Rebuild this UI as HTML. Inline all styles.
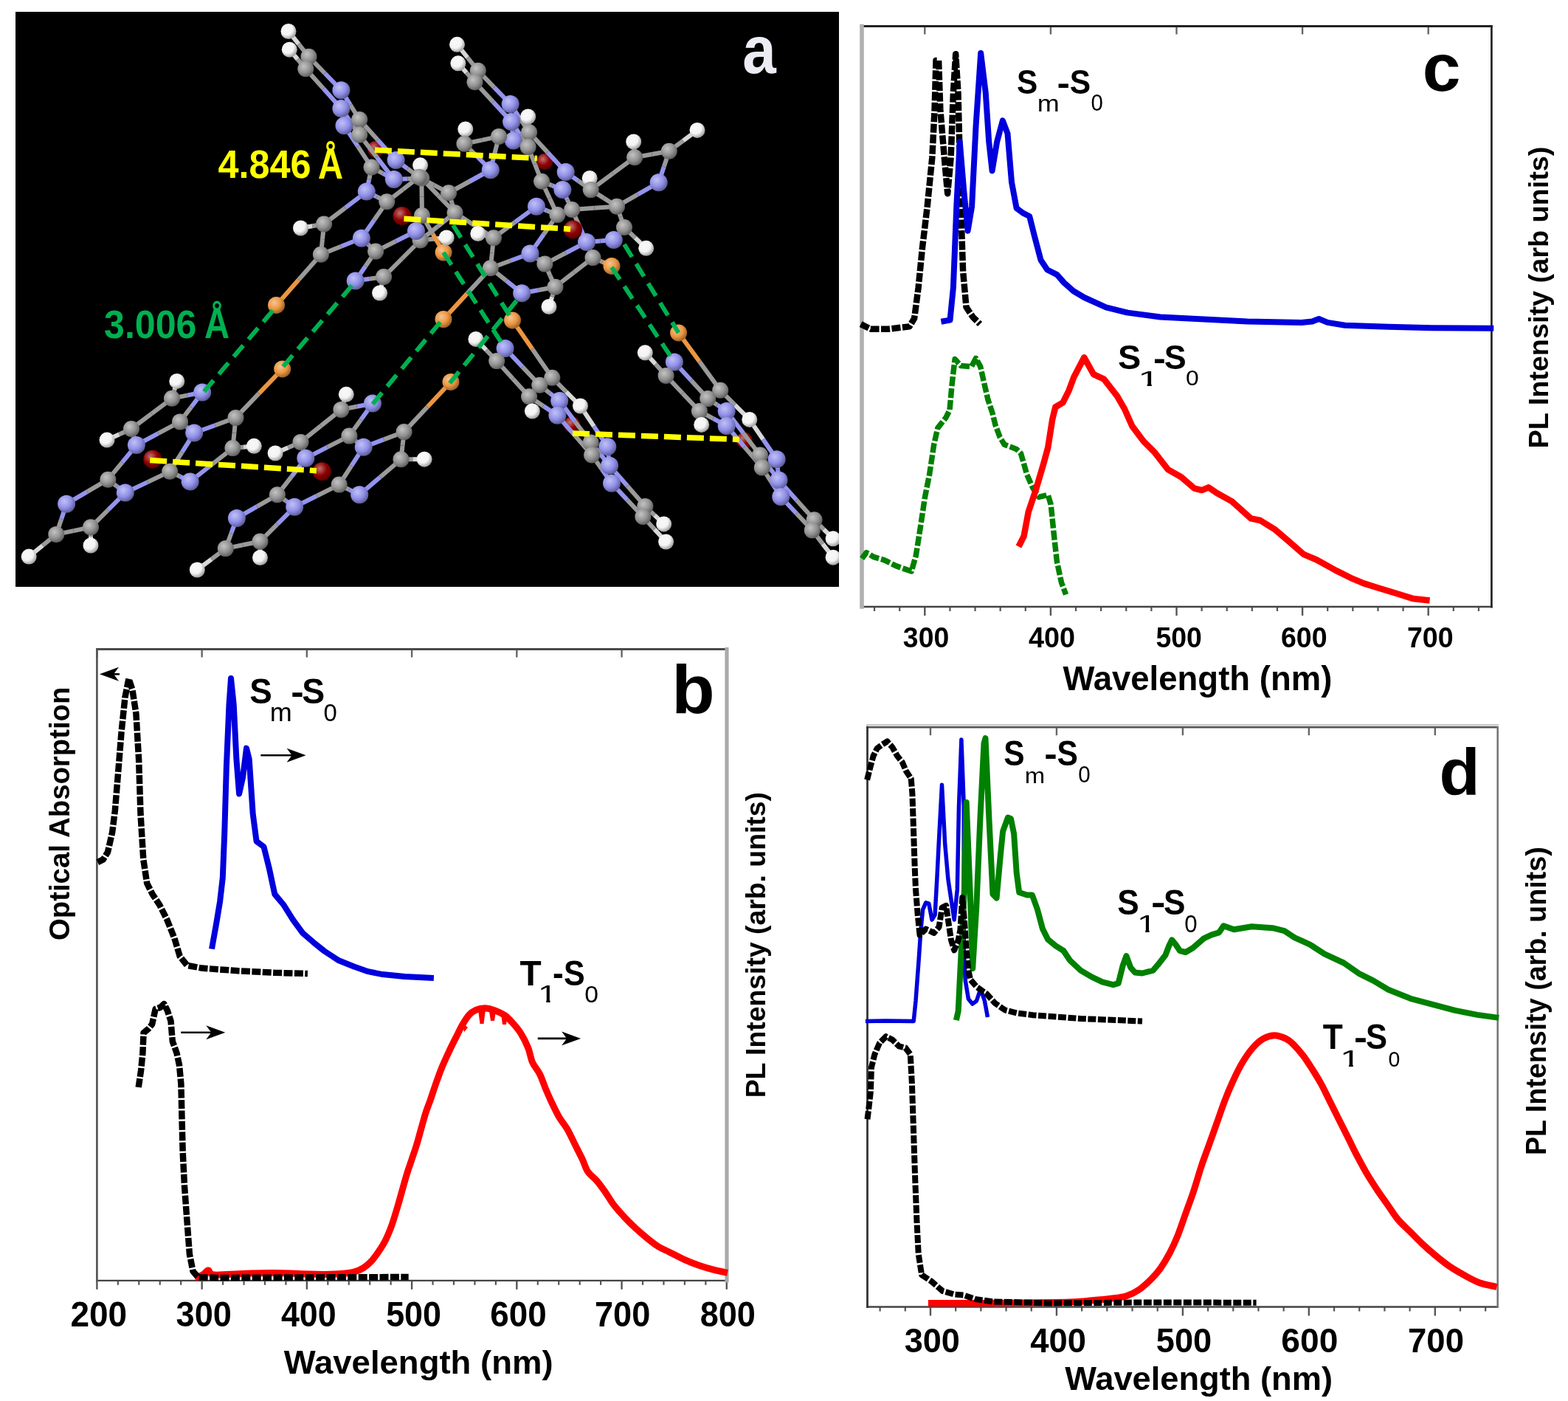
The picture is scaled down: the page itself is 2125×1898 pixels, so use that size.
<!DOCTYPE html>
<html><head><meta charset="utf-8"><title>Figure</title>
<style>
html,body{margin:0;padding:0;background:#fff;overflow:hidden;width:2125px;height:1898px;}
svg{display:block;}
text{font-family:'Liberation Sans', Arial, sans-serif;}
</style></head>
<body>
<svg width="2125" height="1898" viewBox="0 0 2125 1898">
<rect width="2125" height="1898" fill="#fff"/>
<clipPath id="clipA"><rect x="21" y="16" width="1116" height="779"/></clipPath>
<rect x="21" y="16" width="1116" height="779" fill="#000"/>
<g clip-path="url(#clipA)">
<circle cx="738.4" cy="218.9" r="11" fill="url(#gO)"/>
<circle cx="509.1" cy="201.9" r="11" fill="url(#gO)"/>
<circle cx="775.2" cy="575.4" r="11" fill="url(#gO)"/>
<circle cx="1008.8" cy="596.7" r="11" fill="url(#gO)"/>
<line x1="239.80" y1="516.40" x2="236.40" y2="528.10" stroke="#d8d8d8" stroke-width="6" stroke-linecap="butt"/>
<line x1="236.40" y1="528.10" x2="233.00" y2="539.80" stroke="#9a9a9a" stroke-width="6" stroke-linecap="butt"/>
<line x1="233.00" y1="539.80" x2="253.60" y2="535.65" stroke="#9a9a9a" stroke-width="6" stroke-linecap="butt"/>
<line x1="253.60" y1="535.65" x2="274.20" y2="531.50" stroke="#9494ee" stroke-width="6" stroke-linecap="butt"/>
<line x1="233.00" y1="539.80" x2="205.50" y2="560.40" stroke="#9a9a9a" stroke-width="6" stroke-linecap="butt"/>
<line x1="205.50" y1="560.40" x2="178.00" y2="581.00" stroke="#9a9a9a" stroke-width="6" stroke-linecap="butt"/>
<line x1="274.20" y1="531.50" x2="259.10" y2="551.45" stroke="#9494ee" stroke-width="6" stroke-linecap="butt"/>
<line x1="259.10" y1="551.45" x2="244.00" y2="571.40" stroke="#9a9a9a" stroke-width="6" stroke-linecap="butt"/>
<line x1="178.00" y1="581.00" x2="161.50" y2="588.55" stroke="#9a9a9a" stroke-width="6" stroke-linecap="butt"/>
<line x1="161.50" y1="588.55" x2="145.00" y2="596.10" stroke="#d8d8d8" stroke-width="6" stroke-linecap="butt"/>
<line x1="178.00" y1="581.00" x2="181.45" y2="592.00" stroke="#9a9a9a" stroke-width="6" stroke-linecap="butt"/>
<line x1="181.45" y1="592.00" x2="184.90" y2="603.00" stroke="#9494ee" stroke-width="6" stroke-linecap="butt"/>
<line x1="184.90" y1="603.00" x2="214.45" y2="587.20" stroke="#9494ee" stroke-width="6" stroke-linecap="butt"/>
<line x1="214.45" y1="587.20" x2="244.00" y2="571.40" stroke="#9a9a9a" stroke-width="6" stroke-linecap="butt"/>
<line x1="244.00" y1="571.40" x2="253.60" y2="578.95" stroke="#9a9a9a" stroke-width="6" stroke-linecap="butt"/>
<line x1="253.60" y1="578.95" x2="263.20" y2="586.50" stroke="#9494ee" stroke-width="6" stroke-linecap="butt"/>
<line x1="263.20" y1="586.50" x2="291.35" y2="576.20" stroke="#9494ee" stroke-width="6" stroke-linecap="butt"/>
<line x1="291.35" y1="576.20" x2="319.50" y2="565.90" stroke="#9a9a9a" stroke-width="6" stroke-linecap="butt"/>
<line x1="263.20" y1="586.50" x2="246.70" y2="612.60" stroke="#9494ee" stroke-width="6" stroke-linecap="butt"/>
<line x1="246.70" y1="612.60" x2="230.20" y2="638.70" stroke="#9a9a9a" stroke-width="6" stroke-linecap="butt"/>
<line x1="184.90" y1="603.00" x2="165.65" y2="626.35" stroke="#9494ee" stroke-width="6" stroke-linecap="butt"/>
<line x1="165.65" y1="626.35" x2="146.40" y2="649.70" stroke="#9a9a9a" stroke-width="6" stroke-linecap="butt"/>
<line x1="146.40" y1="649.70" x2="158.10" y2="658.60" stroke="#9a9a9a" stroke-width="6" stroke-linecap="butt"/>
<line x1="158.10" y1="658.60" x2="169.80" y2="667.50" stroke="#9494ee" stroke-width="6" stroke-linecap="butt"/>
<line x1="146.40" y1="649.70" x2="118.25" y2="666.20" stroke="#9a9a9a" stroke-width="6" stroke-linecap="butt"/>
<line x1="118.25" y1="666.20" x2="90.10" y2="682.70" stroke="#9494ee" stroke-width="6" stroke-linecap="butt"/>
<line x1="169.80" y1="667.50" x2="200.00" y2="653.10" stroke="#9494ee" stroke-width="6" stroke-linecap="butt"/>
<line x1="200.00" y1="653.10" x2="230.20" y2="638.70" stroke="#9a9a9a" stroke-width="6" stroke-linecap="butt"/>
<line x1="169.80" y1="667.50" x2="146.40" y2="690.90" stroke="#9494ee" stroke-width="6" stroke-linecap="butt"/>
<line x1="146.40" y1="690.90" x2="123.00" y2="714.30" stroke="#9a9a9a" stroke-width="6" stroke-linecap="butt"/>
<line x1="90.10" y1="682.70" x2="83.20" y2="703.30" stroke="#9494ee" stroke-width="6" stroke-linecap="butt"/>
<line x1="83.20" y1="703.30" x2="76.30" y2="723.90" stroke="#9a9a9a" stroke-width="6" stroke-linecap="butt"/>
<line x1="76.30" y1="723.90" x2="99.65" y2="719.10" stroke="#9a9a9a" stroke-width="6" stroke-linecap="butt"/>
<line x1="99.65" y1="719.10" x2="123.00" y2="714.30" stroke="#9a9a9a" stroke-width="6" stroke-linecap="butt"/>
<line x1="123.00" y1="714.30" x2="123.00" y2="726.65" stroke="#9a9a9a" stroke-width="6" stroke-linecap="butt"/>
<line x1="123.00" y1="726.65" x2="123.00" y2="739.00" stroke="#d8d8d8" stroke-width="6" stroke-linecap="butt"/>
<line x1="76.30" y1="723.90" x2="57.75" y2="739.00" stroke="#9a9a9a" stroke-width="6" stroke-linecap="butt"/>
<line x1="57.75" y1="739.00" x2="39.20" y2="754.10" stroke="#d8d8d8" stroke-width="6" stroke-linecap="butt"/>
<line x1="230.20" y1="638.70" x2="243.95" y2="645.55" stroke="#9a9a9a" stroke-width="6" stroke-linecap="butt"/>
<line x1="243.95" y1="645.55" x2="257.70" y2="652.40" stroke="#9494ee" stroke-width="6" stroke-linecap="butt"/>
<line x1="257.70" y1="652.40" x2="286.55" y2="629.75" stroke="#9494ee" stroke-width="6" stroke-linecap="butt"/>
<line x1="286.55" y1="629.75" x2="315.40" y2="607.10" stroke="#9a9a9a" stroke-width="6" stroke-linecap="butt"/>
<line x1="319.50" y1="565.90" x2="317.45" y2="586.50" stroke="#9a9a9a" stroke-width="6" stroke-linecap="butt"/>
<line x1="317.45" y1="586.50" x2="315.40" y2="607.10" stroke="#9a9a9a" stroke-width="6" stroke-linecap="butt"/>
<line x1="315.40" y1="607.10" x2="329.85" y2="605.70" stroke="#9a9a9a" stroke-width="6" stroke-linecap="butt"/>
<line x1="329.85" y1="605.70" x2="344.30" y2="604.30" stroke="#d8d8d8" stroke-width="6" stroke-linecap="butt"/>
<line x1="469.30" y1="534.30" x2="465.85" y2="544.60" stroke="#d8d8d8" stroke-width="6" stroke-linecap="butt"/>
<line x1="465.85" y1="544.60" x2="462.40" y2="554.90" stroke="#9a9a9a" stroke-width="6" stroke-linecap="butt"/>
<line x1="462.40" y1="554.90" x2="483.70" y2="550.75" stroke="#9a9a9a" stroke-width="6" stroke-linecap="butt"/>
<line x1="483.70" y1="550.75" x2="505.00" y2="546.60" stroke="#9494ee" stroke-width="6" stroke-linecap="butt"/>
<line x1="462.40" y1="554.90" x2="434.95" y2="576.90" stroke="#9a9a9a" stroke-width="6" stroke-linecap="butt"/>
<line x1="434.95" y1="576.90" x2="407.50" y2="598.90" stroke="#9a9a9a" stroke-width="6" stroke-linecap="butt"/>
<line x1="505.00" y1="546.60" x2="489.20" y2="568.60" stroke="#9494ee" stroke-width="6" stroke-linecap="butt"/>
<line x1="489.20" y1="568.60" x2="473.40" y2="590.60" stroke="#9a9a9a" stroke-width="6" stroke-linecap="butt"/>
<line x1="407.50" y1="598.90" x2="390.30" y2="606.45" stroke="#9a9a9a" stroke-width="6" stroke-linecap="butt"/>
<line x1="390.30" y1="606.45" x2="373.10" y2="614.00" stroke="#d8d8d8" stroke-width="6" stroke-linecap="butt"/>
<line x1="407.50" y1="598.90" x2="410.90" y2="609.85" stroke="#9a9a9a" stroke-width="6" stroke-linecap="butt"/>
<line x1="410.90" y1="609.85" x2="414.30" y2="620.80" stroke="#9494ee" stroke-width="6" stroke-linecap="butt"/>
<line x1="414.30" y1="620.80" x2="443.85" y2="605.70" stroke="#9494ee" stroke-width="6" stroke-linecap="butt"/>
<line x1="443.85" y1="605.70" x2="473.40" y2="590.60" stroke="#9a9a9a" stroke-width="6" stroke-linecap="butt"/>
<line x1="473.40" y1="590.60" x2="483.05" y2="598.15" stroke="#9a9a9a" stroke-width="6" stroke-linecap="butt"/>
<line x1="483.05" y1="598.15" x2="492.70" y2="605.70" stroke="#9494ee" stroke-width="6" stroke-linecap="butt"/>
<line x1="492.70" y1="605.70" x2="520.15" y2="595.40" stroke="#9494ee" stroke-width="6" stroke-linecap="butt"/>
<line x1="520.15" y1="595.40" x2="547.60" y2="585.10" stroke="#9a9a9a" stroke-width="6" stroke-linecap="butt"/>
<line x1="492.70" y1="605.70" x2="476.20" y2="631.15" stroke="#9494ee" stroke-width="6" stroke-linecap="butt"/>
<line x1="476.20" y1="631.15" x2="459.70" y2="656.60" stroke="#9a9a9a" stroke-width="6" stroke-linecap="butt"/>
<line x1="414.30" y1="620.80" x2="395.10" y2="645.55" stroke="#9494ee" stroke-width="6" stroke-linecap="butt"/>
<line x1="395.10" y1="645.55" x2="375.90" y2="670.30" stroke="#9a9a9a" stroke-width="6" stroke-linecap="butt"/>
<line x1="375.90" y1="670.30" x2="387.55" y2="678.55" stroke="#9a9a9a" stroke-width="6" stroke-linecap="butt"/>
<line x1="387.55" y1="678.55" x2="399.20" y2="686.80" stroke="#9494ee" stroke-width="6" stroke-linecap="butt"/>
<line x1="375.90" y1="670.30" x2="348.40" y2="686.10" stroke="#9a9a9a" stroke-width="6" stroke-linecap="butt"/>
<line x1="348.40" y1="686.10" x2="320.90" y2="701.90" stroke="#9494ee" stroke-width="6" stroke-linecap="butt"/>
<line x1="399.20" y1="686.80" x2="429.45" y2="671.70" stroke="#9494ee" stroke-width="6" stroke-linecap="butt"/>
<line x1="429.45" y1="671.70" x2="459.70" y2="656.60" stroke="#9a9a9a" stroke-width="6" stroke-linecap="butt"/>
<line x1="399.20" y1="686.80" x2="375.85" y2="710.15" stroke="#9494ee" stroke-width="6" stroke-linecap="butt"/>
<line x1="375.85" y1="710.15" x2="352.50" y2="733.50" stroke="#9a9a9a" stroke-width="6" stroke-linecap="butt"/>
<line x1="320.90" y1="701.90" x2="313.35" y2="722.50" stroke="#9494ee" stroke-width="6" stroke-linecap="butt"/>
<line x1="313.35" y1="722.50" x2="305.80" y2="743.10" stroke="#9a9a9a" stroke-width="6" stroke-linecap="butt"/>
<line x1="305.80" y1="743.10" x2="329.15" y2="738.30" stroke="#9a9a9a" stroke-width="6" stroke-linecap="butt"/>
<line x1="329.15" y1="738.30" x2="352.50" y2="733.50" stroke="#9a9a9a" stroke-width="6" stroke-linecap="butt"/>
<line x1="352.50" y1="733.50" x2="352.50" y2="744.50" stroke="#9a9a9a" stroke-width="6" stroke-linecap="butt"/>
<line x1="352.50" y1="744.50" x2="352.50" y2="755.50" stroke="#d8d8d8" stroke-width="6" stroke-linecap="butt"/>
<line x1="305.80" y1="743.10" x2="286.55" y2="757.55" stroke="#9a9a9a" stroke-width="6" stroke-linecap="butt"/>
<line x1="286.55" y1="757.55" x2="267.30" y2="772.00" stroke="#d8d8d8" stroke-width="6" stroke-linecap="butt"/>
<line x1="459.70" y1="656.60" x2="473.45" y2="663.45" stroke="#9a9a9a" stroke-width="6" stroke-linecap="butt"/>
<line x1="473.45" y1="663.45" x2="487.20" y2="670.30" stroke="#9494ee" stroke-width="6" stroke-linecap="butt"/>
<line x1="487.20" y1="670.30" x2="515.35" y2="646.25" stroke="#9494ee" stroke-width="6" stroke-linecap="butt"/>
<line x1="515.35" y1="646.25" x2="543.50" y2="622.20" stroke="#9a9a9a" stroke-width="6" stroke-linecap="butt"/>
<line x1="547.60" y1="585.10" x2="545.55" y2="603.65" stroke="#9a9a9a" stroke-width="6" stroke-linecap="butt"/>
<line x1="545.55" y1="603.65" x2="543.50" y2="622.20" stroke="#9a9a9a" stroke-width="6" stroke-linecap="butt"/>
<line x1="543.50" y1="622.20" x2="559.30" y2="622.20" stroke="#9a9a9a" stroke-width="6" stroke-linecap="butt"/>
<line x1="559.30" y1="622.20" x2="575.10" y2="622.20" stroke="#d8d8d8" stroke-width="6" stroke-linecap="butt"/>
<line x1="496.80" y1="259.60" x2="467.95" y2="281.55" stroke="#9494ee" stroke-width="6" stroke-linecap="butt"/>
<line x1="467.95" y1="281.55" x2="439.10" y2="303.50" stroke="#9a9a9a" stroke-width="6" stroke-linecap="butt"/>
<line x1="496.80" y1="259.60" x2="510.55" y2="266.45" stroke="#9494ee" stroke-width="6" stroke-linecap="butt"/>
<line x1="510.55" y1="266.45" x2="524.30" y2="273.30" stroke="#9a9a9a" stroke-width="6" stroke-linecap="butt"/>
<line x1="439.10" y1="303.50" x2="423.30" y2="306.25" stroke="#9a9a9a" stroke-width="6" stroke-linecap="butt"/>
<line x1="423.30" y1="306.25" x2="407.50" y2="309.00" stroke="#d8d8d8" stroke-width="6" stroke-linecap="butt"/>
<line x1="439.10" y1="303.50" x2="437.00" y2="324.15" stroke="#9a9a9a" stroke-width="6" stroke-linecap="butt"/>
<line x1="437.00" y1="324.15" x2="434.90" y2="344.80" stroke="#9a9a9a" stroke-width="6" stroke-linecap="butt"/>
<line x1="524.30" y1="273.30" x2="507.10" y2="298.05" stroke="#9a9a9a" stroke-width="6" stroke-linecap="butt"/>
<line x1="507.10" y1="298.05" x2="489.90" y2="322.80" stroke="#9494ee" stroke-width="6" stroke-linecap="butt"/>
<line x1="489.90" y1="322.80" x2="462.40" y2="333.80" stroke="#9494ee" stroke-width="6" stroke-linecap="butt"/>
<line x1="462.40" y1="333.80" x2="434.90" y2="344.80" stroke="#9a9a9a" stroke-width="6" stroke-linecap="butt"/>
<line x1="489.90" y1="322.80" x2="499.50" y2="331.70" stroke="#9494ee" stroke-width="6" stroke-linecap="butt"/>
<line x1="499.50" y1="331.70" x2="509.10" y2="340.60" stroke="#9a9a9a" stroke-width="6" stroke-linecap="butt"/>
<line x1="509.10" y1="340.60" x2="495.40" y2="360.55" stroke="#9a9a9a" stroke-width="6" stroke-linecap="butt"/>
<line x1="495.40" y1="360.55" x2="481.70" y2="380.50" stroke="#9494ee" stroke-width="6" stroke-linecap="butt"/>
<line x1="481.70" y1="380.50" x2="500.90" y2="377.75" stroke="#9494ee" stroke-width="6" stroke-linecap="butt"/>
<line x1="500.90" y1="377.75" x2="520.10" y2="375.00" stroke="#9a9a9a" stroke-width="6" stroke-linecap="butt"/>
<line x1="520.10" y1="375.00" x2="517.35" y2="386.00" stroke="#9a9a9a" stroke-width="6" stroke-linecap="butt"/>
<line x1="517.35" y1="386.00" x2="514.60" y2="397.00" stroke="#d8d8d8" stroke-width="6" stroke-linecap="butt"/>
<line x1="520.10" y1="375.00" x2="544.85" y2="350.25" stroke="#9a9a9a" stroke-width="6" stroke-linecap="butt"/>
<line x1="544.85" y1="350.25" x2="569.60" y2="325.50" stroke="#9a9a9a" stroke-width="6" stroke-linecap="butt"/>
<line x1="569.60" y1="325.50" x2="566.80" y2="319.25" stroke="#9a9a9a" stroke-width="6" stroke-linecap="butt"/>
<line x1="566.80" y1="319.25" x2="564.00" y2="313.00" stroke="#9494ee" stroke-width="6" stroke-linecap="butt"/>
<line x1="564.00" y1="313.00" x2="536.55" y2="326.80" stroke="#9494ee" stroke-width="6" stroke-linecap="butt"/>
<line x1="536.55" y1="326.80" x2="509.10" y2="340.60" stroke="#9a9a9a" stroke-width="6" stroke-linecap="butt"/>
<line x1="569.60" y1="325.50" x2="587.40" y2="323.70" stroke="#9a9a9a" stroke-width="6" stroke-linecap="butt"/>
<line x1="587.40" y1="323.70" x2="605.20" y2="321.90" stroke="#d8d8d8" stroke-width="6" stroke-linecap="butt"/>
<line x1="524.30" y1="273.30" x2="546.05" y2="256.55" stroke="#9a9a9a" stroke-width="6" stroke-linecap="butt"/>
<line x1="546.05" y1="256.55" x2="567.80" y2="239.80" stroke="#9a9a9a" stroke-width="6" stroke-linecap="butt"/>
<line x1="727.00" y1="279.70" x2="741.20" y2="285.35" stroke="#9494ee" stroke-width="6" stroke-linecap="butt"/>
<line x1="741.20" y1="285.35" x2="755.40" y2="291.00" stroke="#9a9a9a" stroke-width="6" stroke-linecap="butt"/>
<line x1="727.00" y1="279.70" x2="698.00" y2="300.95" stroke="#9494ee" stroke-width="6" stroke-linecap="butt"/>
<line x1="698.00" y1="300.95" x2="669.00" y2="322.20" stroke="#9a9a9a" stroke-width="6" stroke-linecap="butt"/>
<line x1="669.00" y1="322.20" x2="658.40" y2="319.35" stroke="#9a9a9a" stroke-width="6" stroke-linecap="butt"/>
<line x1="658.40" y1="319.35" x2="647.80" y2="316.50" stroke="#d8d8d8" stroke-width="6" stroke-linecap="butt"/>
<line x1="669.00" y1="322.20" x2="666.90" y2="342.70" stroke="#9a9a9a" stroke-width="6" stroke-linecap="butt"/>
<line x1="666.90" y1="342.70" x2="664.80" y2="363.20" stroke="#9a9a9a" stroke-width="6" stroke-linecap="butt"/>
<line x1="664.80" y1="363.20" x2="691.65" y2="353.30" stroke="#9a9a9a" stroke-width="6" stroke-linecap="butt"/>
<line x1="691.65" y1="353.30" x2="718.50" y2="343.40" stroke="#9494ee" stroke-width="6" stroke-linecap="butt"/>
<line x1="718.50" y1="343.40" x2="736.95" y2="317.20" stroke="#9494ee" stroke-width="6" stroke-linecap="butt"/>
<line x1="736.95" y1="317.20" x2="755.40" y2="291.00" stroke="#9a9a9a" stroke-width="6" stroke-linecap="butt"/>
<line x1="718.50" y1="343.40" x2="728.45" y2="350.50" stroke="#9494ee" stroke-width="6" stroke-linecap="butt"/>
<line x1="728.45" y1="350.50" x2="738.40" y2="357.60" stroke="#9a9a9a" stroke-width="6" stroke-linecap="butt"/>
<line x1="738.40" y1="357.60" x2="745.45" y2="373.15" stroke="#9a9a9a" stroke-width="6" stroke-linecap="butt"/>
<line x1="745.45" y1="373.15" x2="752.50" y2="388.70" stroke="#9a9a9a" stroke-width="6" stroke-linecap="butt"/>
<line x1="752.50" y1="388.70" x2="729.85" y2="392.95" stroke="#9a9a9a" stroke-width="6" stroke-linecap="butt"/>
<line x1="729.85" y1="392.95" x2="707.20" y2="397.20" stroke="#9494ee" stroke-width="6" stroke-linecap="butt"/>
<line x1="707.20" y1="397.20" x2="686.00" y2="380.20" stroke="#9494ee" stroke-width="6" stroke-linecap="butt"/>
<line x1="686.00" y1="380.20" x2="664.80" y2="363.20" stroke="#9a9a9a" stroke-width="6" stroke-linecap="butt"/>
<line x1="738.40" y1="357.60" x2="766.70" y2="342.75" stroke="#9a9a9a" stroke-width="6" stroke-linecap="butt"/>
<line x1="766.70" y1="342.75" x2="795.00" y2="327.90" stroke="#9494ee" stroke-width="6" stroke-linecap="butt"/>
<line x1="795.00" y1="327.90" x2="785.10" y2="305.95" stroke="#9494ee" stroke-width="6" stroke-linecap="butt"/>
<line x1="785.10" y1="305.95" x2="775.20" y2="284.00" stroke="#9a9a9a" stroke-width="6" stroke-linecap="butt"/>
<line x1="775.20" y1="284.00" x2="765.30" y2="287.50" stroke="#9a9a9a" stroke-width="6" stroke-linecap="butt"/>
<line x1="765.30" y1="287.50" x2="755.40" y2="291.00" stroke="#9a9a9a" stroke-width="6" stroke-linecap="butt"/>
<line x1="752.50" y1="388.70" x2="778.00" y2="368.90" stroke="#9a9a9a" stroke-width="6" stroke-linecap="butt"/>
<line x1="778.00" y1="368.90" x2="803.50" y2="349.10" stroke="#9a9a9a" stroke-width="6" stroke-linecap="butt"/>
<line x1="803.50" y1="349.10" x2="799.25" y2="338.50" stroke="#9a9a9a" stroke-width="6" stroke-linecap="butt"/>
<line x1="799.25" y1="338.50" x2="795.00" y2="327.90" stroke="#9494ee" stroke-width="6" stroke-linecap="butt"/>
<line x1="860.10" y1="213.20" x2="883.45" y2="208.95" stroke="#9a9a9a" stroke-width="6" stroke-linecap="butt"/>
<line x1="883.45" y1="208.95" x2="906.80" y2="204.70" stroke="#9a9a9a" stroke-width="6" stroke-linecap="butt"/>
<line x1="860.10" y1="213.20" x2="859.40" y2="202.60" stroke="#9a9a9a" stroke-width="6" stroke-linecap="butt"/>
<line x1="859.40" y1="202.60" x2="858.70" y2="192.00" stroke="#d8d8d8" stroke-width="6" stroke-linecap="butt"/>
<line x1="906.80" y1="204.70" x2="925.90" y2="190.55" stroke="#9a9a9a" stroke-width="6" stroke-linecap="butt"/>
<line x1="925.90" y1="190.55" x2="945.00" y2="176.40" stroke="#d8d8d8" stroke-width="6" stroke-linecap="butt"/>
<line x1="906.80" y1="204.70" x2="899.75" y2="225.95" stroke="#9a9a9a" stroke-width="6" stroke-linecap="butt"/>
<line x1="899.75" y1="225.95" x2="892.70" y2="247.20" stroke="#9494ee" stroke-width="6" stroke-linecap="butt"/>
<line x1="892.70" y1="247.20" x2="864.35" y2="263.45" stroke="#9494ee" stroke-width="6" stroke-linecap="butt"/>
<line x1="864.35" y1="263.45" x2="836.00" y2="279.70" stroke="#9a9a9a" stroke-width="6" stroke-linecap="butt"/>
<line x1="860.10" y1="213.20" x2="830.40" y2="235.15" stroke="#9a9a9a" stroke-width="6" stroke-linecap="butt"/>
<line x1="830.40" y1="235.15" x2="800.70" y2="257.10" stroke="#9a9a9a" stroke-width="6" stroke-linecap="butt"/>
<line x1="836.00" y1="279.70" x2="841.00" y2="293.85" stroke="#9a9a9a" stroke-width="6" stroke-linecap="butt"/>
<line x1="841.00" y1="293.85" x2="846.00" y2="308.00" stroke="#9a9a9a" stroke-width="6" stroke-linecap="butt"/>
<line x1="846.00" y1="308.00" x2="860.85" y2="322.15" stroke="#9a9a9a" stroke-width="6" stroke-linecap="butt"/>
<line x1="860.85" y1="322.15" x2="875.70" y2="336.30" stroke="#d8d8d8" stroke-width="6" stroke-linecap="butt"/>
<line x1="846.00" y1="308.00" x2="838.90" y2="316.50" stroke="#9a9a9a" stroke-width="6" stroke-linecap="butt"/>
<line x1="838.90" y1="316.50" x2="831.80" y2="325.00" stroke="#9494ee" stroke-width="6" stroke-linecap="butt"/>
<line x1="831.80" y1="325.00" x2="813.40" y2="326.45" stroke="#9494ee" stroke-width="6" stroke-linecap="butt"/>
<line x1="813.40" y1="326.45" x2="795.00" y2="327.90" stroke="#9494ee" stroke-width="6" stroke-linecap="butt"/>
<line x1="836.00" y1="279.70" x2="805.60" y2="281.85" stroke="#9a9a9a" stroke-width="6" stroke-linecap="butt"/>
<line x1="805.60" y1="281.85" x2="775.20" y2="284.00" stroke="#9a9a9a" stroke-width="6" stroke-linecap="butt"/>
<line x1="391.00" y1="42.50" x2="404.75" y2="59.65" stroke="#d8d8d8" stroke-width="6" stroke-linecap="butt"/>
<line x1="404.75" y1="59.65" x2="418.50" y2="76.80" stroke="#9a9a9a" stroke-width="6" stroke-linecap="butt"/>
<line x1="392.30" y1="67.20" x2="403.30" y2="80.25" stroke="#d8d8d8" stroke-width="6" stroke-linecap="butt"/>
<line x1="403.30" y1="80.25" x2="414.30" y2="93.30" stroke="#9a9a9a" stroke-width="6" stroke-linecap="butt"/>
<line x1="418.50" y1="76.80" x2="416.40" y2="85.05" stroke="#9a9a9a" stroke-width="6" stroke-linecap="butt"/>
<line x1="416.40" y1="85.05" x2="414.30" y2="93.30" stroke="#9a9a9a" stroke-width="6" stroke-linecap="butt"/>
<line x1="418.50" y1="76.80" x2="440.45" y2="99.50" stroke="#9a9a9a" stroke-width="6" stroke-linecap="butt"/>
<line x1="440.45" y1="99.50" x2="462.40" y2="122.20" stroke="#9494ee" stroke-width="6" stroke-linecap="butt"/>
<line x1="462.40" y1="122.20" x2="474.80" y2="142.10" stroke="#9494ee" stroke-width="6" stroke-linecap="butt"/>
<line x1="474.80" y1="142.10" x2="487.20" y2="162.00" stroke="#9a9a9a" stroke-width="6" stroke-linecap="butt"/>
<line x1="487.20" y1="162.00" x2="511.90" y2="189.50" stroke="#9a9a9a" stroke-width="6" stroke-linecap="butt"/>
<line x1="511.90" y1="189.50" x2="536.60" y2="217.00" stroke="#9494ee" stroke-width="6" stroke-linecap="butt"/>
<line x1="536.60" y1="217.00" x2="552.20" y2="228.40" stroke="#9494ee" stroke-width="6" stroke-linecap="butt"/>
<line x1="552.20" y1="228.40" x2="567.80" y2="239.80" stroke="#9a9a9a" stroke-width="6" stroke-linecap="butt"/>
<line x1="414.30" y1="93.30" x2="438.35" y2="120.10" stroke="#9a9a9a" stroke-width="6" stroke-linecap="butt"/>
<line x1="438.35" y1="120.10" x2="462.40" y2="146.90" stroke="#9494ee" stroke-width="6" stroke-linecap="butt"/>
<line x1="462.40" y1="146.90" x2="474.80" y2="164.75" stroke="#9494ee" stroke-width="6" stroke-linecap="butt"/>
<line x1="474.80" y1="164.75" x2="487.20" y2="182.60" stroke="#9a9a9a" stroke-width="6" stroke-linecap="butt"/>
<line x1="487.20" y1="182.60" x2="510.55" y2="212.85" stroke="#9a9a9a" stroke-width="6" stroke-linecap="butt"/>
<line x1="510.55" y1="212.85" x2="533.90" y2="243.10" stroke="#9494ee" stroke-width="6" stroke-linecap="butt"/>
<line x1="533.90" y1="243.10" x2="552.60" y2="242.30" stroke="#9494ee" stroke-width="6" stroke-linecap="butt"/>
<line x1="552.60" y1="242.30" x2="571.30" y2="241.50" stroke="#9a9a9a" stroke-width="6" stroke-linecap="butt"/>
<line x1="462.40" y1="146.90" x2="464.45" y2="158.60" stroke="#9494ee" stroke-width="6" stroke-linecap="butt"/>
<line x1="464.45" y1="158.60" x2="466.50" y2="170.30" stroke="#9494ee" stroke-width="6" stroke-linecap="butt"/>
<line x1="466.50" y1="170.30" x2="485.05" y2="198.45" stroke="#9494ee" stroke-width="6" stroke-linecap="butt"/>
<line x1="485.05" y1="198.45" x2="503.60" y2="226.60" stroke="#9a9a9a" stroke-width="6" stroke-linecap="butt"/>
<line x1="503.60" y1="226.60" x2="500.20" y2="243.10" stroke="#9a9a9a" stroke-width="6" stroke-linecap="butt"/>
<line x1="500.20" y1="243.10" x2="496.80" y2="259.60" stroke="#9494ee" stroke-width="6" stroke-linecap="butt"/>
<line x1="569.60" y1="223.80" x2="568.70" y2="231.80" stroke="#d8d8d8" stroke-width="6" stroke-linecap="butt"/>
<line x1="568.70" y1="231.80" x2="567.80" y2="239.80" stroke="#9a9a9a" stroke-width="6" stroke-linecap="butt"/>
<line x1="503.60" y1="226.60" x2="518.75" y2="234.85" stroke="#9a9a9a" stroke-width="6" stroke-linecap="butt"/>
<line x1="518.75" y1="234.85" x2="533.90" y2="243.10" stroke="#9494ee" stroke-width="6" stroke-linecap="butt"/>
<line x1="567.80" y1="239.80" x2="587.95" y2="250.55" stroke="#9a9a9a" stroke-width="6" stroke-linecap="butt"/>
<line x1="587.95" y1="250.55" x2="608.10" y2="261.30" stroke="#9a9a9a" stroke-width="6" stroke-linecap="butt"/>
<line x1="571.30" y1="241.50" x2="593.95" y2="264.85" stroke="#9a9a9a" stroke-width="6" stroke-linecap="butt"/>
<line x1="593.95" y1="264.85" x2="616.60" y2="288.20" stroke="#9a9a9a" stroke-width="6" stroke-linecap="butt"/>
<line x1="608.10" y1="261.30" x2="612.35" y2="274.75" stroke="#9a9a9a" stroke-width="6" stroke-linecap="butt"/>
<line x1="612.35" y1="274.75" x2="616.60" y2="288.20" stroke="#9a9a9a" stroke-width="6" stroke-linecap="butt"/>
<line x1="616.60" y1="288.20" x2="642.80" y2="305.20" stroke="#9a9a9a" stroke-width="6" stroke-linecap="butt"/>
<line x1="642.80" y1="305.20" x2="669.00" y2="322.20" stroke="#9a9a9a" stroke-width="6" stroke-linecap="butt"/>
<line x1="608.10" y1="261.30" x2="636.45" y2="245.75" stroke="#9a9a9a" stroke-width="6" stroke-linecap="butt"/>
<line x1="636.45" y1="245.75" x2="664.80" y2="230.20" stroke="#9494ee" stroke-width="6" stroke-linecap="butt"/>
<line x1="619.50" y1="60.30" x2="633.65" y2="78.00" stroke="#d8d8d8" stroke-width="6" stroke-linecap="butt"/>
<line x1="633.65" y1="78.00" x2="647.80" y2="95.70" stroke="#9a9a9a" stroke-width="6" stroke-linecap="butt"/>
<line x1="620.90" y1="85.80" x2="632.20" y2="98.55" stroke="#d8d8d8" stroke-width="6" stroke-linecap="butt"/>
<line x1="632.20" y1="98.55" x2="643.50" y2="111.30" stroke="#9a9a9a" stroke-width="6" stroke-linecap="butt"/>
<line x1="647.80" y1="95.70" x2="645.65" y2="103.50" stroke="#9a9a9a" stroke-width="6" stroke-linecap="butt"/>
<line x1="645.65" y1="103.50" x2="643.50" y2="111.30" stroke="#9a9a9a" stroke-width="6" stroke-linecap="butt"/>
<line x1="647.80" y1="95.70" x2="669.75" y2="118.35" stroke="#9a9a9a" stroke-width="6" stroke-linecap="butt"/>
<line x1="669.75" y1="118.35" x2="691.70" y2="141.00" stroke="#9494ee" stroke-width="6" stroke-linecap="butt"/>
<line x1="691.70" y1="141.00" x2="704.40" y2="160.10" stroke="#9494ee" stroke-width="6" stroke-linecap="butt"/>
<line x1="704.40" y1="160.10" x2="717.10" y2="179.20" stroke="#9a9a9a" stroke-width="6" stroke-linecap="butt"/>
<line x1="717.10" y1="179.20" x2="741.90" y2="206.10" stroke="#9a9a9a" stroke-width="6" stroke-linecap="butt"/>
<line x1="741.90" y1="206.10" x2="766.70" y2="233.00" stroke="#9494ee" stroke-width="6" stroke-linecap="butt"/>
<line x1="766.70" y1="233.00" x2="783.70" y2="245.05" stroke="#9494ee" stroke-width="6" stroke-linecap="butt"/>
<line x1="783.70" y1="245.05" x2="800.70" y2="257.10" stroke="#9a9a9a" stroke-width="6" stroke-linecap="butt"/>
<line x1="643.50" y1="111.30" x2="668.30" y2="138.15" stroke="#9a9a9a" stroke-width="6" stroke-linecap="butt"/>
<line x1="668.30" y1="138.15" x2="693.10" y2="165.00" stroke="#9494ee" stroke-width="6" stroke-linecap="butt"/>
<line x1="693.10" y1="165.00" x2="704.40" y2="182.00" stroke="#9494ee" stroke-width="6" stroke-linecap="butt"/>
<line x1="704.40" y1="182.00" x2="715.70" y2="199.00" stroke="#9a9a9a" stroke-width="6" stroke-linecap="butt"/>
<line x1="715.70" y1="199.00" x2="724.90" y2="222.35" stroke="#9a9a9a" stroke-width="6" stroke-linecap="butt"/>
<line x1="724.90" y1="222.35" x2="734.10" y2="245.70" stroke="#9a9a9a" stroke-width="6" stroke-linecap="butt"/>
<line x1="734.10" y1="245.70" x2="748.25" y2="251.40" stroke="#9a9a9a" stroke-width="6" stroke-linecap="butt"/>
<line x1="748.25" y1="251.40" x2="762.40" y2="257.10" stroke="#9494ee" stroke-width="6" stroke-linecap="butt"/>
<line x1="693.10" y1="165.00" x2="694.50" y2="177.75" stroke="#9494ee" stroke-width="6" stroke-linecap="butt"/>
<line x1="694.50" y1="177.75" x2="695.90" y2="190.50" stroke="#9494ee" stroke-width="6" stroke-linecap="butt"/>
<line x1="715.70" y1="158.00" x2="716.40" y2="168.60" stroke="#d8d8d8" stroke-width="6" stroke-linecap="butt"/>
<line x1="716.40" y1="168.60" x2="717.10" y2="179.20" stroke="#9a9a9a" stroke-width="6" stroke-linecap="butt"/>
<line x1="799.20" y1="241.50" x2="799.95" y2="249.30" stroke="#d8d8d8" stroke-width="6" stroke-linecap="butt"/>
<line x1="799.95" y1="249.30" x2="800.70" y2="257.10" stroke="#9a9a9a" stroke-width="6" stroke-linecap="butt"/>
<line x1="630.80" y1="175.00" x2="630.10" y2="184.90" stroke="#d8d8d8" stroke-width="6" stroke-linecap="butt"/>
<line x1="630.10" y1="184.90" x2="629.40" y2="194.80" stroke="#9a9a9a" stroke-width="6" stroke-linecap="butt"/>
<line x1="629.40" y1="194.80" x2="652.75" y2="189.85" stroke="#9a9a9a" stroke-width="6" stroke-linecap="butt"/>
<line x1="652.75" y1="189.85" x2="676.10" y2="184.90" stroke="#9a9a9a" stroke-width="6" stroke-linecap="butt"/>
<line x1="629.40" y1="194.80" x2="647.10" y2="212.50" stroke="#9a9a9a" stroke-width="6" stroke-linecap="butt"/>
<line x1="647.10" y1="212.50" x2="664.80" y2="230.20" stroke="#9494ee" stroke-width="6" stroke-linecap="butt"/>
<line x1="676.10" y1="184.90" x2="670.45" y2="207.55" stroke="#9a9a9a" stroke-width="6" stroke-linecap="butt"/>
<line x1="670.45" y1="207.55" x2="664.80" y2="230.20" stroke="#9494ee" stroke-width="6" stroke-linecap="butt"/>
<line x1="676.10" y1="184.90" x2="686.00" y2="187.70" stroke="#9a9a9a" stroke-width="6" stroke-linecap="butt"/>
<line x1="686.00" y1="187.70" x2="695.90" y2="190.50" stroke="#9494ee" stroke-width="6" stroke-linecap="butt"/>
<line x1="664.80" y1="230.20" x2="636.45" y2="245.75" stroke="#9494ee" stroke-width="6" stroke-linecap="butt"/>
<line x1="636.45" y1="245.75" x2="608.10" y2="261.30" stroke="#9a9a9a" stroke-width="6" stroke-linecap="butt"/>
<line x1="734.10" y1="245.70" x2="744.75" y2="268.35" stroke="#9a9a9a" stroke-width="6" stroke-linecap="butt"/>
<line x1="744.75" y1="268.35" x2="755.40" y2="291.00" stroke="#9a9a9a" stroke-width="6" stroke-linecap="butt"/>
<line x1="762.40" y1="257.10" x2="768.80" y2="270.55" stroke="#9494ee" stroke-width="6" stroke-linecap="butt"/>
<line x1="768.80" y1="270.55" x2="775.20" y2="284.00" stroke="#9a9a9a" stroke-width="6" stroke-linecap="butt"/>
<line x1="800.70" y1="257.10" x2="818.35" y2="268.40" stroke="#9a9a9a" stroke-width="6" stroke-linecap="butt"/>
<line x1="818.35" y1="268.40" x2="836.00" y2="279.70" stroke="#9a9a9a" stroke-width="6" stroke-linecap="butt"/>
<line x1="644.90" y1="459.40" x2="659.05" y2="474.25" stroke="#d8d8d8" stroke-width="6" stroke-linecap="butt"/>
<line x1="659.05" y1="474.25" x2="673.20" y2="489.10" stroke="#9a9a9a" stroke-width="6" stroke-linecap="butt"/>
<line x1="673.20" y1="489.10" x2="695.15" y2="513.15" stroke="#9a9a9a" stroke-width="6" stroke-linecap="butt"/>
<line x1="695.15" y1="513.15" x2="717.10" y2="537.20" stroke="#9a9a9a" stroke-width="6" stroke-linecap="butt"/>
<line x1="717.10" y1="537.20" x2="736.25" y2="549.95" stroke="#9a9a9a" stroke-width="6" stroke-linecap="butt"/>
<line x1="736.25" y1="549.95" x2="755.40" y2="562.70" stroke="#9494ee" stroke-width="6" stroke-linecap="butt"/>
<line x1="755.40" y1="562.70" x2="778.75" y2="589.60" stroke="#9494ee" stroke-width="6" stroke-linecap="butt"/>
<line x1="778.75" y1="589.60" x2="802.10" y2="616.50" stroke="#9a9a9a" stroke-width="6" stroke-linecap="butt"/>
<line x1="802.10" y1="616.50" x2="815.55" y2="635.60" stroke="#9a9a9a" stroke-width="6" stroke-linecap="butt"/>
<line x1="815.55" y1="635.60" x2="829.00" y2="654.70" stroke="#9494ee" stroke-width="6" stroke-linecap="butt"/>
<line x1="829.00" y1="654.70" x2="850.20" y2="677.35" stroke="#9494ee" stroke-width="6" stroke-linecap="butt"/>
<line x1="850.20" y1="677.35" x2="871.40" y2="700.00" stroke="#9a9a9a" stroke-width="6" stroke-linecap="butt"/>
<line x1="871.40" y1="700.00" x2="887.00" y2="717.00" stroke="#9a9a9a" stroke-width="6" stroke-linecap="butt"/>
<line x1="887.00" y1="717.00" x2="902.60" y2="734.00" stroke="#d8d8d8" stroke-width="6" stroke-linecap="butt"/>
<line x1="684.60" y1="472.10" x2="707.95" y2="496.90" stroke="#9494ee" stroke-width="6" stroke-linecap="butt"/>
<line x1="707.95" y1="496.90" x2="731.30" y2="521.70" stroke="#9a9a9a" stroke-width="6" stroke-linecap="butt"/>
<line x1="731.30" y1="521.70" x2="744.75" y2="532.30" stroke="#9a9a9a" stroke-width="6" stroke-linecap="butt"/>
<line x1="744.75" y1="532.30" x2="758.20" y2="542.90" stroke="#9494ee" stroke-width="6" stroke-linecap="butt"/>
<line x1="758.20" y1="542.90" x2="779.45" y2="571.20" stroke="#9494ee" stroke-width="6" stroke-linecap="butt"/>
<line x1="779.45" y1="571.20" x2="800.70" y2="599.50" stroke="#9a9a9a" stroke-width="6" stroke-linecap="butt"/>
<line x1="800.70" y1="599.50" x2="813.40" y2="615.10" stroke="#9a9a9a" stroke-width="6" stroke-linecap="butt"/>
<line x1="813.40" y1="615.10" x2="826.10" y2="630.70" stroke="#9494ee" stroke-width="6" stroke-linecap="butt"/>
<line x1="826.10" y1="630.70" x2="850.20" y2="658.30" stroke="#9494ee" stroke-width="6" stroke-linecap="butt"/>
<line x1="850.20" y1="658.30" x2="874.30" y2="685.90" stroke="#9a9a9a" stroke-width="6" stroke-linecap="butt"/>
<line x1="874.30" y1="685.90" x2="887.00" y2="697.90" stroke="#9a9a9a" stroke-width="6" stroke-linecap="butt"/>
<line x1="887.00" y1="697.90" x2="899.70" y2="709.90" stroke="#d8d8d8" stroke-width="6" stroke-linecap="butt"/>
<line x1="874.30" y1="685.90" x2="872.85" y2="692.95" stroke="#9a9a9a" stroke-width="6" stroke-linecap="butt"/>
<line x1="872.85" y1="692.95" x2="871.40" y2="700.00" stroke="#9a9a9a" stroke-width="6" stroke-linecap="butt"/>
<line x1="748.30" y1="511.70" x2="767.40" y2="530.85" stroke="#9a9a9a" stroke-width="6" stroke-linecap="butt"/>
<line x1="767.40" y1="530.85" x2="786.50" y2="550.00" stroke="#d8d8d8" stroke-width="6" stroke-linecap="butt"/>
<line x1="748.30" y1="511.70" x2="739.80" y2="516.70" stroke="#9a9a9a" stroke-width="6" stroke-linecap="butt"/>
<line x1="739.80" y1="516.70" x2="731.30" y2="521.70" stroke="#9a9a9a" stroke-width="6" stroke-linecap="butt"/>
<line x1="786.50" y1="550.00" x2="804.90" y2="577.60" stroke="#d8d8d8" stroke-width="6" stroke-linecap="butt"/>
<line x1="804.90" y1="577.60" x2="823.30" y2="605.20" stroke="#9494ee" stroke-width="6" stroke-linecap="butt"/>
<line x1="823.30" y1="605.20" x2="824.70" y2="617.95" stroke="#9494ee" stroke-width="6" stroke-linecap="butt"/>
<line x1="824.70" y1="617.95" x2="826.10" y2="630.70" stroke="#9494ee" stroke-width="6" stroke-linecap="butt"/>
<line x1="721.40" y1="557.00" x2="719.25" y2="547.10" stroke="#d8d8d8" stroke-width="6" stroke-linecap="butt"/>
<line x1="719.25" y1="547.10" x2="717.10" y2="537.20" stroke="#9a9a9a" stroke-width="6" stroke-linecap="butt"/>
<line x1="673.20" y1="489.10" x2="678.90" y2="480.60" stroke="#9a9a9a" stroke-width="6" stroke-linecap="butt"/>
<line x1="678.90" y1="480.60" x2="684.60" y2="472.10" stroke="#9494ee" stroke-width="6" stroke-linecap="butt"/>
<line x1="874.30" y1="477.80" x2="888.45" y2="493.35" stroke="#d8d8d8" stroke-width="6" stroke-linecap="butt"/>
<line x1="888.45" y1="493.35" x2="902.60" y2="508.90" stroke="#9a9a9a" stroke-width="6" stroke-linecap="butt"/>
<line x1="902.60" y1="508.90" x2="925.25" y2="532.95" stroke="#9a9a9a" stroke-width="6" stroke-linecap="butt"/>
<line x1="925.25" y1="532.95" x2="947.90" y2="557.00" stroke="#9a9a9a" stroke-width="6" stroke-linecap="butt"/>
<line x1="947.90" y1="557.00" x2="966.30" y2="566.95" stroke="#9a9a9a" stroke-width="6" stroke-linecap="butt"/>
<line x1="966.30" y1="566.95" x2="984.70" y2="576.90" stroke="#9494ee" stroke-width="6" stroke-linecap="butt"/>
<line x1="984.70" y1="576.90" x2="1008.75" y2="605.20" stroke="#9494ee" stroke-width="6" stroke-linecap="butt"/>
<line x1="1008.75" y1="605.20" x2="1032.80" y2="633.50" stroke="#9a9a9a" stroke-width="6" stroke-linecap="butt"/>
<line x1="1032.80" y1="633.50" x2="1045.55" y2="653.30" stroke="#9a9a9a" stroke-width="6" stroke-linecap="butt"/>
<line x1="1045.55" y1="653.30" x2="1058.30" y2="673.10" stroke="#9494ee" stroke-width="6" stroke-linecap="butt"/>
<line x1="1058.30" y1="673.10" x2="1079.55" y2="695.75" stroke="#9494ee" stroke-width="6" stroke-linecap="butt"/>
<line x1="1079.55" y1="695.75" x2="1100.80" y2="718.40" stroke="#9a9a9a" stroke-width="6" stroke-linecap="butt"/>
<line x1="1100.80" y1="718.40" x2="1114.95" y2="736.80" stroke="#9a9a9a" stroke-width="6" stroke-linecap="butt"/>
<line x1="1114.95" y1="736.80" x2="1129.10" y2="755.20" stroke="#d8d8d8" stroke-width="6" stroke-linecap="butt"/>
<line x1="913.90" y1="490.50" x2="936.55" y2="515.30" stroke="#9494ee" stroke-width="6" stroke-linecap="butt"/>
<line x1="936.55" y1="515.30" x2="959.20" y2="540.10" stroke="#9a9a9a" stroke-width="6" stroke-linecap="butt"/>
<line x1="959.20" y1="540.10" x2="971.95" y2="548.55" stroke="#9a9a9a" stroke-width="6" stroke-linecap="butt"/>
<line x1="971.95" y1="548.55" x2="984.70" y2="557.00" stroke="#9494ee" stroke-width="6" stroke-linecap="butt"/>
<line x1="984.70" y1="557.00" x2="1007.35" y2="586.75" stroke="#9494ee" stroke-width="6" stroke-linecap="butt"/>
<line x1="1007.35" y1="586.75" x2="1030.00" y2="616.50" stroke="#9a9a9a" stroke-width="6" stroke-linecap="butt"/>
<line x1="1030.00" y1="616.50" x2="1042.75" y2="633.50" stroke="#9a9a9a" stroke-width="6" stroke-linecap="butt"/>
<line x1="1042.75" y1="633.50" x2="1055.50" y2="650.50" stroke="#9494ee" stroke-width="6" stroke-linecap="butt"/>
<line x1="1055.50" y1="650.50" x2="1079.55" y2="677.40" stroke="#9494ee" stroke-width="6" stroke-linecap="butt"/>
<line x1="1079.55" y1="677.40" x2="1103.60" y2="704.30" stroke="#9a9a9a" stroke-width="6" stroke-linecap="butt"/>
<line x1="1103.60" y1="704.30" x2="1116.35" y2="717.05" stroke="#9a9a9a" stroke-width="6" stroke-linecap="butt"/>
<line x1="1116.35" y1="717.05" x2="1129.10" y2="729.80" stroke="#d8d8d8" stroke-width="6" stroke-linecap="butt"/>
<line x1="1103.60" y1="704.30" x2="1102.20" y2="711.35" stroke="#9a9a9a" stroke-width="6" stroke-linecap="butt"/>
<line x1="1102.20" y1="711.35" x2="1100.80" y2="718.40" stroke="#9a9a9a" stroke-width="6" stroke-linecap="butt"/>
<line x1="976.20" y1="528.70" x2="996.00" y2="548.55" stroke="#9a9a9a" stroke-width="6" stroke-linecap="butt"/>
<line x1="996.00" y1="548.55" x2="1015.80" y2="568.40" stroke="#d8d8d8" stroke-width="6" stroke-linecap="butt"/>
<line x1="976.20" y1="528.70" x2="967.70" y2="534.40" stroke="#9a9a9a" stroke-width="6" stroke-linecap="butt"/>
<line x1="967.70" y1="534.40" x2="959.20" y2="540.10" stroke="#9a9a9a" stroke-width="6" stroke-linecap="butt"/>
<line x1="1015.80" y1="568.40" x2="1034.20" y2="595.30" stroke="#d8d8d8" stroke-width="6" stroke-linecap="butt"/>
<line x1="1034.20" y1="595.30" x2="1052.60" y2="622.20" stroke="#9494ee" stroke-width="6" stroke-linecap="butt"/>
<line x1="1052.60" y1="622.20" x2="1054.05" y2="636.35" stroke="#9494ee" stroke-width="6" stroke-linecap="butt"/>
<line x1="1054.05" y1="636.35" x2="1055.50" y2="650.50" stroke="#9494ee" stroke-width="6" stroke-linecap="butt"/>
<line x1="950.70" y1="575.40" x2="949.30" y2="566.20" stroke="#d8d8d8" stroke-width="6" stroke-linecap="butt"/>
<line x1="949.30" y1="566.20" x2="947.90" y2="557.00" stroke="#9a9a9a" stroke-width="6" stroke-linecap="butt"/>
<line x1="902.60" y1="508.90" x2="908.25" y2="499.70" stroke="#9a9a9a" stroke-width="6" stroke-linecap="butt"/>
<line x1="908.25" y1="499.70" x2="913.90" y2="490.50" stroke="#9494ee" stroke-width="6" stroke-linecap="butt"/>
<line x1="569.60" y1="325.50" x2="593.10" y2="306.85" stroke="#9a9a9a" stroke-width="6" stroke-linecap="butt"/>
<line x1="593.10" y1="306.85" x2="616.60" y2="288.20" stroke="#9a9a9a" stroke-width="6" stroke-linecap="butt"/>
<line x1="572.00" y1="292.00" x2="571.65" y2="266.75" stroke="#9a9a9a" stroke-width="6" stroke-linecap="butt"/>
<line x1="571.65" y1="266.75" x2="571.30" y2="241.50" stroke="#9a9a9a" stroke-width="6" stroke-linecap="butt"/>
<line x1="744.00" y1="415.50" x2="748.25" y2="402.10" stroke="#d8d8d8" stroke-width="6" stroke-linecap="butt"/>
<line x1="748.25" y1="402.10" x2="752.50" y2="388.70" stroke="#9a9a9a" stroke-width="6" stroke-linecap="butt"/>
<line x1="374.50" y1="413.40" x2="404.70" y2="379.10" stroke="#ec9640" stroke-width="6" stroke-linecap="butt"/>
<line x1="404.70" y1="379.10" x2="434.90" y2="344.80" stroke="#9a9a9a" stroke-width="6" stroke-linecap="butt"/>
<line x1="382.70" y1="499.90" x2="351.10" y2="532.90" stroke="#ec9640" stroke-width="6" stroke-linecap="butt"/>
<line x1="351.10" y1="532.90" x2="319.50" y2="565.90" stroke="#9a9a9a" stroke-width="6" stroke-linecap="butt"/>
<line x1="601.10" y1="342.00" x2="586.55" y2="317.00" stroke="#ec9640" stroke-width="6" stroke-linecap="butt"/>
<line x1="586.55" y1="317.00" x2="572.00" y2="292.00" stroke="#9a9a9a" stroke-width="6" stroke-linecap="butt"/>
<line x1="829.00" y1="360.40" x2="816.25" y2="354.75" stroke="#ec9640" stroke-width="6" stroke-linecap="butt"/>
<line x1="816.25" y1="354.75" x2="803.50" y2="349.10" stroke="#9a9a9a" stroke-width="6" stroke-linecap="butt"/>
<line x1="601.00" y1="432.50" x2="632.90" y2="397.85" stroke="#ec9640" stroke-width="6" stroke-linecap="butt"/>
<line x1="632.90" y1="397.85" x2="664.80" y2="363.20" stroke="#9a9a9a" stroke-width="6" stroke-linecap="butt"/>
<line x1="694.50" y1="433.90" x2="721.40" y2="472.80" stroke="#ec9640" stroke-width="6" stroke-linecap="butt"/>
<line x1="721.40" y1="472.80" x2="748.30" y2="511.70" stroke="#9a9a9a" stroke-width="6" stroke-linecap="butt"/>
<line x1="611.00" y1="517.40" x2="579.30" y2="551.25" stroke="#ec9640" stroke-width="6" stroke-linecap="butt"/>
<line x1="579.30" y1="551.25" x2="547.60" y2="585.10" stroke="#9a9a9a" stroke-width="6" stroke-linecap="butt"/>
<line x1="919.60" y1="450.90" x2="947.90" y2="489.80" stroke="#ec9640" stroke-width="6" stroke-linecap="butt"/>
<line x1="947.90" y1="489.80" x2="976.20" y2="528.70" stroke="#9a9a9a" stroke-width="6" stroke-linecap="butt"/>
<defs>
<radialGradient id="gH" cx="0.38" cy="0.35" r="0.7"><stop offset="0" stop-color="#f8f8f8"/><stop offset="0.55" stop-color="#f4f4f4"/><stop offset="1" stop-color="#929292"/></radialGradient>
<radialGradient id="gC" cx="0.38" cy="0.35" r="0.7"><stop offset="0" stop-color="#c3c3c3"/><stop offset="0.55" stop-color="#939393"/><stop offset="1" stop-color="#585858"/></radialGradient>
<radialGradient id="gN" cx="0.38" cy="0.35" r="0.7"><stop offset="0" stop-color="#c1c1f3"/><stop offset="0.55" stop-color="#9090ea"/><stop offset="1" stop-color="#56568c"/></radialGradient>
<radialGradient id="gO" cx="0.38" cy="0.35" r="0.7"><stop offset="0" stop-color="#c07272"/><stop offset="0.55" stop-color="#8e0000"/><stop offset="1" stop-color="#550000"/></radialGradient>
<radialGradient id="gS" cx="0.38" cy="0.35" r="0.7"><stop offset="0" stop-color="#f4c595"/><stop offset="0.55" stop-color="#ec9640"/><stop offset="1" stop-color="#8d5a26"/></radialGradient>
</defs>
<circle cx="391.0" cy="42.5" r="10.5" fill="url(#gH)"/>
<circle cx="392.3" cy="67.2" r="10.5" fill="url(#gH)"/>
<circle cx="418.5" cy="76.8" r="11" fill="url(#gC)"/>
<circle cx="414.3" cy="93.3" r="11" fill="url(#gC)"/>
<circle cx="462.4" cy="122.2" r="12" fill="url(#gN)"/>
<circle cx="462.4" cy="146.9" r="12" fill="url(#gN)"/>
<circle cx="466.5" cy="170.3" r="12" fill="url(#gN)"/>
<circle cx="487.2" cy="162.0" r="11" fill="url(#gC)"/>
<circle cx="487.2" cy="182.6" r="11" fill="url(#gC)"/>
<circle cx="536.6" cy="217.0" r="12" fill="url(#gN)"/>
<circle cx="533.9" cy="243.1" r="12" fill="url(#gN)"/>
<circle cx="503.6" cy="226.6" r="11" fill="url(#gC)"/>
<circle cx="569.6" cy="223.8" r="10.5" fill="url(#gH)"/>
<circle cx="496.8" cy="259.6" r="12" fill="url(#gN)"/>
<circle cx="524.3" cy="273.3" r="11" fill="url(#gC)"/>
<circle cx="544.9" cy="292.5" r="12.5" fill="url(#gO)"/>
<circle cx="407.5" cy="309.0" r="10.5" fill="url(#gH)"/>
<circle cx="439.1" cy="303.5" r="11" fill="url(#gC)"/>
<circle cx="489.9" cy="322.8" r="12" fill="url(#gN)"/>
<circle cx="434.9" cy="344.8" r="11" fill="url(#gC)"/>
<circle cx="509.1" cy="340.6" r="11" fill="url(#gC)"/>
<circle cx="520.1" cy="375.0" r="11" fill="url(#gC)"/>
<circle cx="481.7" cy="380.5" r="12" fill="url(#gN)"/>
<circle cx="514.6" cy="397.0" r="10.5" fill="url(#gH)"/>
<circle cx="569.6" cy="325.5" r="11" fill="url(#gC)"/>
<circle cx="619.5" cy="60.3" r="10.5" fill="url(#gH)"/>
<circle cx="620.9" cy="85.8" r="10.5" fill="url(#gH)"/>
<circle cx="647.8" cy="95.7" r="11" fill="url(#gC)"/>
<circle cx="643.5" cy="111.3" r="11" fill="url(#gC)"/>
<circle cx="691.7" cy="141.0" r="12" fill="url(#gN)"/>
<circle cx="693.1" cy="165.0" r="12" fill="url(#gN)"/>
<circle cx="695.9" cy="190.5" r="12" fill="url(#gN)"/>
<circle cx="715.7" cy="158.0" r="10.5" fill="url(#gH)"/>
<circle cx="717.1" cy="179.2" r="11" fill="url(#gC)"/>
<circle cx="715.7" cy="199.0" r="11" fill="url(#gC)"/>
<circle cx="630.8" cy="175.0" r="10.5" fill="url(#gH)"/>
<circle cx="629.4" cy="194.8" r="11" fill="url(#gC)"/>
<circle cx="676.1" cy="184.9" r="11" fill="url(#gC)"/>
<circle cx="664.8" cy="230.2" r="12" fill="url(#gN)"/>
<circle cx="766.7" cy="233.0" r="12" fill="url(#gN)"/>
<circle cx="762.4" cy="257.1" r="12" fill="url(#gN)"/>
<circle cx="734.1" cy="245.7" r="11" fill="url(#gC)"/>
<circle cx="799.2" cy="241.5" r="10.5" fill="url(#gH)"/>
<circle cx="800.7" cy="257.1" r="11" fill="url(#gC)"/>
<circle cx="571.3" cy="241.5" r="11" fill="url(#gC)"/>
<circle cx="608.1" cy="261.3" r="11" fill="url(#gC)"/>
<circle cx="727.0" cy="279.7" r="12" fill="url(#gN)"/>
<circle cx="755.4" cy="291.0" r="11" fill="url(#gC)"/>
<circle cx="775.2" cy="284.0" r="11" fill="url(#gC)"/>
<circle cx="776.6" cy="310.9" r="12.5" fill="url(#gO)"/>
<circle cx="616.6" cy="288.2" r="11" fill="url(#gC)"/>
<circle cx="836.0" cy="279.7" r="11" fill="url(#gC)"/>
<circle cx="846.0" cy="308.0" r="11" fill="url(#gC)"/>
<circle cx="892.7" cy="247.2" r="12" fill="url(#gN)"/>
<circle cx="860.1" cy="213.2" r="11" fill="url(#gC)"/>
<circle cx="906.8" cy="204.7" r="11" fill="url(#gC)"/>
<circle cx="858.7" cy="192.0" r="10.5" fill="url(#gH)"/>
<circle cx="945.0" cy="176.4" r="10.5" fill="url(#gH)"/>
<circle cx="647.8" cy="316.5" r="10.5" fill="url(#gH)"/>
<circle cx="875.7" cy="336.3" r="10.5" fill="url(#gH)"/>
<circle cx="601.1" cy="342.0" r="11.5" fill="url(#gS)"/>
<circle cx="829.0" cy="360.4" r="11.5" fill="url(#gS)"/>
<circle cx="669.0" cy="322.2" r="11" fill="url(#gC)"/>
<circle cx="664.8" cy="363.2" r="11" fill="url(#gC)"/>
<circle cx="738.4" cy="357.6" r="11" fill="url(#gC)"/>
<circle cx="803.5" cy="349.1" r="11" fill="url(#gC)"/>
<circle cx="752.5" cy="388.7" r="11" fill="url(#gC)"/>
<circle cx="718.5" cy="343.4" r="12" fill="url(#gN)"/>
<circle cx="795.0" cy="327.9" r="12" fill="url(#gN)"/>
<circle cx="831.8" cy="325.0" r="12" fill="url(#gN)"/>
<circle cx="707.2" cy="397.2" r="12" fill="url(#gN)"/>
<circle cx="572.0" cy="292.0" r="11" fill="url(#gC)"/>
<circle cx="374.5" cy="413.4" r="11.5" fill="url(#gS)"/>
<circle cx="382.7" cy="499.9" r="11.5" fill="url(#gS)"/>
<circle cx="239.8" cy="516.4" r="10.5" fill="url(#gH)"/>
<circle cx="233.0" cy="539.8" r="11" fill="url(#gC)"/>
<circle cx="274.2" cy="531.5" r="12" fill="url(#gN)"/>
<circle cx="178.0" cy="581.0" r="11" fill="url(#gC)"/>
<circle cx="145.0" cy="596.1" r="10.5" fill="url(#gH)"/>
<circle cx="244.0" cy="571.4" r="11" fill="url(#gC)"/>
<circle cx="184.9" cy="603.0" r="12" fill="url(#gN)"/>
<circle cx="263.2" cy="586.5" r="12" fill="url(#gN)"/>
<circle cx="319.5" cy="565.9" r="11" fill="url(#gC)"/>
<circle cx="315.4" cy="607.1" r="11" fill="url(#gC)"/>
<circle cx="344.3" cy="604.3" r="10.5" fill="url(#gH)"/>
<circle cx="206.9" cy="622.2" r="12.5" fill="url(#gO)"/>
<circle cx="230.2" cy="638.7" r="11" fill="url(#gC)"/>
<circle cx="257.7" cy="652.4" r="12" fill="url(#gN)"/>
<circle cx="146.4" cy="649.7" r="11" fill="url(#gC)"/>
<circle cx="169.8" cy="667.5" r="12" fill="url(#gN)"/>
<circle cx="90.1" cy="682.7" r="12" fill="url(#gN)"/>
<circle cx="123.0" cy="714.3" r="11" fill="url(#gC)"/>
<circle cx="76.3" cy="723.9" r="11" fill="url(#gC)"/>
<circle cx="123.0" cy="739.0" r="10.5" fill="url(#gH)"/>
<circle cx="39.2" cy="754.1" r="10.5" fill="url(#gH)"/>
<circle cx="469.3" cy="534.3" r="10.5" fill="url(#gH)"/>
<circle cx="462.4" cy="554.9" r="11" fill="url(#gC)"/>
<circle cx="505.0" cy="546.6" r="12" fill="url(#gN)"/>
<circle cx="407.5" cy="598.9" r="11" fill="url(#gC)"/>
<circle cx="373.1" cy="614.0" r="10.5" fill="url(#gH)"/>
<circle cx="473.4" cy="590.6" r="11" fill="url(#gC)"/>
<circle cx="414.3" cy="620.8" r="12" fill="url(#gN)"/>
<circle cx="492.7" cy="605.7" r="12" fill="url(#gN)"/>
<circle cx="547.6" cy="585.1" r="11" fill="url(#gC)"/>
<circle cx="436.3" cy="638.7" r="12.5" fill="url(#gO)"/>
<circle cx="543.5" cy="622.2" r="11" fill="url(#gC)"/>
<circle cx="575.1" cy="622.2" r="10.5" fill="url(#gH)"/>
<circle cx="459.7" cy="656.6" r="11" fill="url(#gC)"/>
<circle cx="487.2" cy="670.3" r="12" fill="url(#gN)"/>
<circle cx="375.9" cy="670.3" r="11" fill="url(#gC)"/>
<circle cx="399.2" cy="686.8" r="12" fill="url(#gN)"/>
<circle cx="320.9" cy="701.9" r="12" fill="url(#gN)"/>
<circle cx="352.5" cy="733.5" r="11" fill="url(#gC)"/>
<circle cx="305.8" cy="743.1" r="11" fill="url(#gC)"/>
<circle cx="352.5" cy="755.5" r="10.5" fill="url(#gH)"/>
<circle cx="267.3" cy="772.0" r="10.5" fill="url(#gH)"/>
<circle cx="601.0" cy="432.5" r="11.5" fill="url(#gS)"/>
<circle cx="694.5" cy="433.9" r="11.5" fill="url(#gS)"/>
<circle cx="611.0" cy="517.4" r="11.5" fill="url(#gS)"/>
<circle cx="644.9" cy="459.4" r="10.5" fill="url(#gH)"/>
<circle cx="684.6" cy="472.1" r="12" fill="url(#gN)"/>
<circle cx="673.2" cy="489.1" r="11" fill="url(#gC)"/>
<circle cx="748.3" cy="511.7" r="11" fill="url(#gC)"/>
<circle cx="731.3" cy="521.7" r="11" fill="url(#gC)"/>
<circle cx="717.1" cy="537.2" r="11" fill="url(#gC)"/>
<circle cx="758.2" cy="542.9" r="12" fill="url(#gN)"/>
<circle cx="786.5" cy="550.0" r="10.5" fill="url(#gH)"/>
<circle cx="721.4" cy="557.0" r="10.5" fill="url(#gH)"/>
<circle cx="755.4" cy="562.7" r="12" fill="url(#gN)"/>
<circle cx="800.7" cy="599.5" r="11" fill="url(#gC)"/>
<circle cx="823.3" cy="605.2" r="12" fill="url(#gN)"/>
<circle cx="802.1" cy="616.5" r="11" fill="url(#gC)"/>
<circle cx="826.1" cy="630.7" r="12" fill="url(#gN)"/>
<circle cx="829.0" cy="654.7" r="12" fill="url(#gN)"/>
<circle cx="874.3" cy="685.9" r="11" fill="url(#gC)"/>
<circle cx="871.4" cy="700.0" r="11" fill="url(#gC)"/>
<circle cx="899.7" cy="709.9" r="10.5" fill="url(#gH)"/>
<circle cx="902.6" cy="734.0" r="10.5" fill="url(#gH)"/>
<circle cx="919.6" cy="450.9" r="11.5" fill="url(#gS)"/>
<circle cx="874.3" cy="477.8" r="10.5" fill="url(#gH)"/>
<circle cx="913.9" cy="490.5" r="12" fill="url(#gN)"/>
<circle cx="902.6" cy="508.9" r="11" fill="url(#gC)"/>
<circle cx="976.2" cy="528.7" r="11" fill="url(#gC)"/>
<circle cx="959.2" cy="540.1" r="11" fill="url(#gC)"/>
<circle cx="947.9" cy="557.0" r="11" fill="url(#gC)"/>
<circle cx="984.7" cy="557.0" r="12" fill="url(#gN)"/>
<circle cx="1015.8" cy="568.4" r="10.5" fill="url(#gH)"/>
<circle cx="950.7" cy="575.4" r="10.5" fill="url(#gH)"/>
<circle cx="984.7" cy="576.9" r="12" fill="url(#gN)"/>
<circle cx="1030.0" cy="616.5" r="11" fill="url(#gC)"/>
<circle cx="1052.6" cy="622.2" r="12" fill="url(#gN)"/>
<circle cx="1032.8" cy="633.5" r="11" fill="url(#gC)"/>
<circle cx="1055.5" cy="650.5" r="12" fill="url(#gN)"/>
<circle cx="1058.3" cy="673.1" r="12" fill="url(#gN)"/>
<circle cx="1103.6" cy="704.3" r="11" fill="url(#gC)"/>
<circle cx="1100.8" cy="718.4" r="11" fill="url(#gC)"/>
<circle cx="1129.1" cy="729.8" r="10.5" fill="url(#gH)"/>
<circle cx="1129.1" cy="755.2" r="10.5" fill="url(#gH)"/>
<circle cx="744.0" cy="415.5" r="10.5" fill="url(#gH)"/>
<circle cx="564.0" cy="313.0" r="12" fill="url(#gN)"/>
<circle cx="605.2" cy="321.9" r="10.5" fill="url(#gH)"/>
<circle cx="567.8" cy="239.8" r="11" fill="url(#gC)"/>
<line x1="507.90" y1="203.20" x2="728.00" y2="214.40" stroke="#ffff00" stroke-width="7.5" stroke-linecap="butt" stroke-dasharray="23 8"/>
<line x1="547.40" y1="296.30" x2="773.10" y2="310.40" stroke="#ffff00" stroke-width="7.5" stroke-linecap="butt" stroke-dasharray="23 8"/>
<line x1="203.20" y1="623.60" x2="428.90" y2="637.70" stroke="#ffff00" stroke-width="7.5" stroke-linecap="butt" stroke-dasharray="23 8"/>
<line x1="776.00" y1="586.90" x2="1001.70" y2="595.40" stroke="#ffff00" stroke-width="7.5" stroke-linecap="butt" stroke-dasharray="23 8"/>
<line x1="276.50" y1="530.50" x2="372.50" y2="417.60" stroke="#00b050" stroke-width="6" stroke-linecap="butt" stroke-dasharray="20 11"/>
<line x1="383.70" y1="496.60" x2="479.70" y2="383.70" stroke="#00b050" stroke-width="6" stroke-linecap="butt" stroke-dasharray="20 11"/>
<line x1="505.00" y1="547.40" x2="598.20" y2="434.50" stroke="#00b050" stroke-width="6" stroke-linecap="butt" stroke-dasharray="20 11"/>
<line x1="609.50" y1="519.20" x2="705.40" y2="400.70" stroke="#00b050" stroke-width="6" stroke-linecap="butt" stroke-dasharray="20 11"/>
<line x1="614.00" y1="305.00" x2="694.50" y2="433.90" stroke="#00b050" stroke-width="6" stroke-linecap="butt" stroke-dasharray="20 11"/>
<line x1="601.00" y1="342.00" x2="684.60" y2="472.10" stroke="#00b050" stroke-width="6" stroke-linecap="butt" stroke-dasharray="20 11"/>
<line x1="846.00" y1="331.00" x2="919.60" y2="450.90" stroke="#00b050" stroke-width="6" stroke-linecap="butt" stroke-dasharray="20 11"/>
<line x1="829.00" y1="362.00" x2="913.90" y2="490.50" stroke="#00b050" stroke-width="6" stroke-linecap="butt" stroke-dasharray="20 11"/>
</g>
<text transform="translate(295.44,241.16) scale(0.9304,1)" font-size="54.23" font-weight="bold" fill="#ffff00">4.846</text>
<text transform="translate(431.02,241.70) scale(0.8217,1)" font-size="57.40" font-weight="bold" fill="#ffff00">Å</text>
<text transform="translate(141.05,457.66) scale(0.9365,1)" font-size="53.52" font-weight="bold" fill="#00b050">3.006</text>
<text transform="translate(277.12,458.20) scale(0.8298,1)" font-size="56.84" font-weight="bold" fill="#00b050">Å</text>
<text transform="translate(1006.34,99.00) scale(0.9097,1)" font-size="90.00" font-weight="bold" fill="#ececf4">a</text>
<line x1="159.85" y1="1734.80" x2="159.85" y2="1740.80" stroke="#555" stroke-width="2.2" stroke-linecap="butt"/>
<line x1="188.29" y1="1734.80" x2="188.29" y2="1740.80" stroke="#555" stroke-width="2.2" stroke-linecap="butt"/>
<line x1="216.74" y1="1734.80" x2="216.74" y2="1740.80" stroke="#555" stroke-width="2.2" stroke-linecap="butt"/>
<line x1="245.19" y1="1734.80" x2="245.19" y2="1740.80" stroke="#555" stroke-width="2.2" stroke-linecap="butt"/>
<line x1="302.08" y1="1734.80" x2="302.08" y2="1740.80" stroke="#555" stroke-width="2.2" stroke-linecap="butt"/>
<line x1="330.53" y1="1734.80" x2="330.53" y2="1740.80" stroke="#555" stroke-width="2.2" stroke-linecap="butt"/>
<line x1="358.98" y1="1734.80" x2="358.98" y2="1740.80" stroke="#555" stroke-width="2.2" stroke-linecap="butt"/>
<line x1="387.42" y1="1734.80" x2="387.42" y2="1740.80" stroke="#555" stroke-width="2.2" stroke-linecap="butt"/>
<line x1="444.32" y1="1734.80" x2="444.32" y2="1740.80" stroke="#555" stroke-width="2.2" stroke-linecap="butt"/>
<line x1="472.76" y1="1734.80" x2="472.76" y2="1740.80" stroke="#555" stroke-width="2.2" stroke-linecap="butt"/>
<line x1="501.21" y1="1734.80" x2="501.21" y2="1740.80" stroke="#555" stroke-width="2.2" stroke-linecap="butt"/>
<line x1="529.66" y1="1734.80" x2="529.66" y2="1740.80" stroke="#555" stroke-width="2.2" stroke-linecap="butt"/>
<line x1="586.55" y1="1734.80" x2="586.55" y2="1740.80" stroke="#555" stroke-width="2.2" stroke-linecap="butt"/>
<line x1="615.00" y1="1734.80" x2="615.00" y2="1740.80" stroke="#555" stroke-width="2.2" stroke-linecap="butt"/>
<line x1="643.45" y1="1734.80" x2="643.45" y2="1740.80" stroke="#555" stroke-width="2.2" stroke-linecap="butt"/>
<line x1="671.89" y1="1734.80" x2="671.89" y2="1740.80" stroke="#555" stroke-width="2.2" stroke-linecap="butt"/>
<line x1="728.79" y1="1734.80" x2="728.79" y2="1740.80" stroke="#555" stroke-width="2.2" stroke-linecap="butt"/>
<line x1="757.23" y1="1734.80" x2="757.23" y2="1740.80" stroke="#555" stroke-width="2.2" stroke-linecap="butt"/>
<line x1="785.68" y1="1734.80" x2="785.68" y2="1740.80" stroke="#555" stroke-width="2.2" stroke-linecap="butt"/>
<line x1="814.13" y1="1734.80" x2="814.13" y2="1740.80" stroke="#555" stroke-width="2.2" stroke-linecap="butt"/>
<line x1="871.02" y1="1734.80" x2="871.02" y2="1740.80" stroke="#555" stroke-width="2.2" stroke-linecap="butt"/>
<line x1="899.47" y1="1734.80" x2="899.47" y2="1740.80" stroke="#555" stroke-width="2.2" stroke-linecap="butt"/>
<line x1="927.92" y1="1734.80" x2="927.92" y2="1740.80" stroke="#555" stroke-width="2.2" stroke-linecap="butt"/>
<line x1="956.36" y1="1734.80" x2="956.36" y2="1740.80" stroke="#555" stroke-width="2.2" stroke-linecap="butt"/>
<line x1="131.40" y1="1734.80" x2="131.40" y2="1746.80" stroke="#555" stroke-width="2.4" stroke-linecap="butt"/>
<line x1="131.40" y1="879.50" x2="131.40" y2="890.50" stroke="#666" stroke-width="2.4" stroke-linecap="butt"/>
<line x1="273.63" y1="1734.80" x2="273.63" y2="1746.80" stroke="#555" stroke-width="2.4" stroke-linecap="butt"/>
<line x1="273.63" y1="879.50" x2="273.63" y2="890.50" stroke="#666" stroke-width="2.4" stroke-linecap="butt"/>
<line x1="415.87" y1="1734.80" x2="415.87" y2="1746.80" stroke="#555" stroke-width="2.4" stroke-linecap="butt"/>
<line x1="415.87" y1="879.50" x2="415.87" y2="890.50" stroke="#666" stroke-width="2.4" stroke-linecap="butt"/>
<line x1="558.11" y1="1734.80" x2="558.11" y2="1746.80" stroke="#555" stroke-width="2.4" stroke-linecap="butt"/>
<line x1="558.11" y1="879.50" x2="558.11" y2="890.50" stroke="#666" stroke-width="2.4" stroke-linecap="butt"/>
<line x1="700.34" y1="1734.80" x2="700.34" y2="1746.80" stroke="#555" stroke-width="2.4" stroke-linecap="butt"/>
<line x1="700.34" y1="879.50" x2="700.34" y2="890.50" stroke="#666" stroke-width="2.4" stroke-linecap="butt"/>
<line x1="842.57" y1="1734.80" x2="842.57" y2="1746.80" stroke="#555" stroke-width="2.4" stroke-linecap="butt"/>
<line x1="842.57" y1="879.50" x2="842.57" y2="890.50" stroke="#666" stroke-width="2.4" stroke-linecap="butt"/>
<line x1="984.81" y1="1734.80" x2="984.81" y2="1746.80" stroke="#555" stroke-width="2.4" stroke-linecap="butt"/>
<line x1="984.81" y1="879.50" x2="984.81" y2="890.50" stroke="#666" stroke-width="2.4" stroke-linecap="butt"/>
<line x1="131.40" y1="879.50" x2="985.00" y2="879.50" stroke="#4a4a4a" stroke-width="2.8" stroke-linecap="square"/>
<line x1="131.40" y1="1734.80" x2="985.00" y2="1734.80" stroke="#444" stroke-width="2.3" stroke-linecap="square"/>
<line x1="131.40" y1="879.50" x2="131.40" y2="1734.80" stroke="#555" stroke-width="2.7" stroke-linecap="square"/>
<line x1="985.00" y1="879.50" x2="985.00" y2="1734.80" stroke="#aaaaaa" stroke-width="5.2" stroke-linecap="square"/>
<polyline points="132.4,1168.1 139.8,1164.4 146.0,1154.5 152.2,1127.3 155.9,1097.7 159.6,1053.1 164.6,991.3 169.5,944.3 174.5,919.6 179.4,934.4 184.4,966.6 188.1,1028.4 190.5,1102.6 194.3,1164.4 199.2,1196.6 206.6,1211.4 216.5,1226.3 226.4,1246.1 236.3,1270.8 243.7,1295.5 253.6,1307.9 273.4,1311.6 322.9,1315.3 372.3,1317.8 416.9,1319.0" fill="none" stroke="#000" stroke-width="8.5" stroke-linecap="butt" stroke-linejoin="round" stroke-dasharray="12 2.4"/>
<polyline points="287.0,1285.6 293.2,1251.0 298.1,1221.3 301.8,1189.2 304.3,1127.3 306.8,1040.8 310.5,954.2 313.0,919.0 316.7,954.2 320.4,1028.4 324.1,1075.4 329.1,1053.1 334.0,1013.6 337.7,1028.4 342.7,1102.6 347.6,1139.7 357.5,1147.1 364.9,1176.8 372.3,1211.4 384.7,1226.3 397.1,1246.1 409.9,1263.7 424.7,1276.6 439.6,1288.5 459.3,1301.3 479.1,1309.3 498.9,1316.2 518.7,1320.1 548.4,1323.1 587.9,1325.1" fill="none" stroke="#0000dc" stroke-width="8" stroke-linecap="butt" stroke-linejoin="round"/>
<path d="M263.8,1731.0 C265.7,1730.3 271.9,1728.7 275.0,1727.0 C278.1,1725.3 279.8,1721.0 282.3,1721.0 C284.8,1721.0 282.1,1726.2 290.0,1727.0 C297.9,1727.8 316.7,1725.9 330.0,1725.5 C343.3,1725.1 355.0,1724.4 370.0,1724.5 C385.0,1724.6 408.3,1725.7 420.0,1726.0 C431.7,1726.3 432.7,1726.5 440.0,1726.4 C447.3,1726.3 457.3,1726.1 463.9,1725.6 C470.5,1725.1 475.0,1724.5 479.8,1723.2 C484.6,1721.9 488.6,1720.1 492.6,1717.6 C496.6,1715.1 500.2,1711.8 503.7,1708.1 C507.1,1704.4 510.1,1700.1 513.3,1695.3 C516.5,1690.5 519.9,1685.2 522.8,1679.4 C525.7,1673.6 528.1,1667.7 530.8,1660.3 C533.5,1652.9 536.4,1642.8 538.8,1634.8 C541.2,1626.8 543.0,1619.9 545.1,1612.5 C547.2,1605.1 549.4,1597.1 551.5,1590.2 C553.6,1583.3 555.8,1577.5 557.9,1571.1 C560.0,1564.7 562.2,1558.9 564.3,1552.0 C566.4,1545.1 568.5,1537.1 570.6,1529.7 C572.7,1522.3 574.9,1514.1 577.0,1507.4 C579.1,1500.8 581.3,1495.9 583.4,1489.8 C585.5,1483.7 587.2,1478.0 589.8,1470.7 C592.4,1463.4 595.6,1454.0 598.9,1446.0 C602.2,1438.0 606.2,1429.6 609.5,1422.5 C612.8,1415.4 616.1,1409.1 618.9,1403.6 C621.6,1398.1 623.2,1394.2 626.0,1389.5 C628.8,1384.8 632.3,1378.8 635.4,1375.3 C638.5,1371.8 640.9,1369.9 644.8,1368.3 C648.7,1366.7 654.4,1365.7 658.9,1365.9 C663.4,1366.1 667.8,1367.8 671.9,1369.4 C676.0,1371.0 680.0,1372.7 683.7,1375.3 C687.4,1377.9 690.3,1380.9 694.0,1385.0 C697.7,1389.1 702.2,1394.0 705.8,1399.8 C709.4,1405.5 713.1,1412.9 715.7,1419.5 C718.3,1426.1 719.0,1433.4 721.6,1439.3 C724.2,1445.2 728.5,1449.2 731.5,1455.1 C734.5,1461.0 736.8,1468.6 739.4,1474.9 C742.0,1481.2 744.3,1486.4 747.3,1492.7 C750.3,1499.0 753.6,1506.2 757.2,1512.5 C760.8,1518.8 765.5,1524.0 769.1,1530.3 C772.7,1536.6 775.7,1543.5 779.0,1550.1 C782.3,1556.7 785.9,1563.5 788.9,1569.8 C791.9,1576.0 793.5,1582.6 796.8,1587.6 C800.1,1592.5 804.6,1594.9 808.6,1599.5 C812.6,1604.1 816.5,1609.7 820.5,1615.3 C824.5,1620.9 828.1,1627.5 832.4,1633.1 C836.7,1638.7 841.6,1644.0 846.2,1648.9 C850.8,1653.9 855.2,1658.2 860.1,1662.8 C865.0,1667.4 870.6,1672.3 875.9,1676.6 C881.2,1680.9 886.4,1685.2 891.7,1688.5 C897.0,1691.8 901.6,1693.4 907.5,1696.4 C913.4,1699.4 920.7,1703.3 927.3,1706.3 C933.9,1709.3 940.5,1711.9 947.1,1714.2 C953.7,1716.5 960.3,1718.4 966.8,1720.1 C973.3,1721.8 982.8,1723.6 986.0,1724.3" fill="none" stroke="#ff0000" stroke-width="9" stroke-linecap="butt" stroke-linejoin="round"/>
<polygon points="648,1368 650.5,1387 655.5,1387 658,1368" fill="#ff0000"/>
<polygon points="663,1370 665,1383 670,1383 672,1370" fill="#ff0000"/>
<polygon points="679,1373 681,1388 686,1388 688,1375" fill="#ff0000"/>
<polygon points="626,1385 629,1398 634,1392" fill="#ff0000"/>
<polygon points="715,1419 718,1434 723,1428" fill="#ff0000"/>
<polyline points="187.7,1473.0 191.1,1450.0 193.4,1426.9 194.6,1399.2 201.5,1393.4 206.1,1387.7 210.7,1366.9 217.7,1364.6 222.3,1360.0 226.9,1369.2 231.5,1383.1 233.8,1410.7 239.6,1426.9 243.0,1443.0 245.4,1468.4 246.5,1514.5 247.7,1560.7 250.0,1606.8 253.4,1653.0 256.9,1699.1 261.5,1722.2 268.4,1730.2 298.4,1731.0 400.0,1730.5 553.7,1730.0" fill="none" stroke="#000" stroke-width="8.5" stroke-linecap="butt" stroke-linejoin="round" stroke-dasharray="12 2.4"/>
<line x1="145.00" y1="913.30" x2="162.00" y2="913.30" stroke="#000" stroke-width="2.6" stroke-linecap="butt"/>
<path d="M135.0,913.3 L161.0,903.8 L154.0,913.3 L161.0,922.8 Z" fill="#000"/>
<line x1="353.30" y1="1023.20" x2="404.60" y2="1023.20" stroke="#000" stroke-width="2.6" stroke-linecap="butt"/>
<path d="M414.6,1023.2 L388.6,1013.7 L395.6,1023.2 L388.6,1032.7 Z" fill="#000"/>
<line x1="245.30" y1="1398.70" x2="295.30" y2="1398.70" stroke="#000" stroke-width="2.6" stroke-linecap="butt"/>
<path d="M305.3,1398.7 L279.3,1389.2 L286.3,1398.7 L279.3,1408.2 Z" fill="#000"/>
<line x1="728.80" y1="1406.90" x2="777.10" y2="1406.90" stroke="#000" stroke-width="2.6" stroke-linecap="butt"/>
<path d="M787.1,1406.9 L761.1,1397.4 L768.1,1406.9 L761.1,1416.4 Z" fill="#000"/>
<text transform="translate(338.23,953.02) scale(0.9571,1)" font-size="47.89" font-weight="bold" fill="#000">S</text>
<text transform="translate(365.76,977.30) scale(1.0460,1)" font-size="34.44" font-weight="normal" fill="#000">m</text>
<text transform="translate(394.20,954.35) scale(1.0973,1)" font-size="47.89" font-weight="bold" fill="#000">-</text>
<text transform="translate(409.31,953.02) scale(0.9675,1)" font-size="47.89" font-weight="bold" fill="#000">S</text>
<text transform="translate(438.58,976.96) scale(0.9820,1)" font-size="33.52" font-weight="normal" fill="#000">0</text>
<text transform="translate(704.62,1334.50) scale(0.9934,1)" font-size="48.12" font-weight="bold" fill="#000">T</text>
<g transform="translate(729.10,1358.40) scale(1.4180,1)"><clipPath id="c1_623"><rect x="-32.99" y="-65.99" width="98.98" height="62.22"/><rect x="7.90" y="-65.99" width="3.72" height="82.49"/></clipPath><text font-size="32.99" font-weight="normal" fill="#000" clip-path="url(#c1_623)">1</text></g>
<text transform="translate(749.03,1335.11) scale(0.9210,1)" font-size="48.12" font-weight="bold" fill="#000">-</text>
<text transform="translate(763.91,1334.52) scale(0.8979,1)" font-size="47.89" font-weight="bold" fill="#000">S</text>
<text transform="translate(792.35,1358.08) scale(1.0556,1)" font-size="31.97" font-weight="normal" fill="#000">0</text>
<text transform="translate(910.28,965.67) scale(1.0277,1)" font-size="93.06" font-weight="bold" fill="#000">b</text>
<text transform="translate(95.39,1796.73) scale(0.9728,1)" font-size="47.32" font-weight="bold" fill="#000">200</text>
<text transform="translate(238.57,1796.73) scale(0.9549,1)" font-size="47.32" font-weight="bold" fill="#000">300</text>
<text transform="translate(380.93,1796.73) scale(0.9476,1)" font-size="47.32" font-weight="bold" fill="#000">400</text>
<text transform="translate(523.15,1796.73) scale(0.9486,1)" font-size="47.32" font-weight="bold" fill="#000">500</text>
<text transform="translate(664.20,1796.73) scale(0.9688,1)" font-size="47.32" font-weight="bold" fill="#000">600</text>
<text transform="translate(805.99,1796.73) scale(0.9546,1)" font-size="47.32" font-weight="bold" fill="#000">700</text>
<text transform="translate(948.65,1796.73) scale(0.9539,1)" font-size="47.32" font-weight="bold" fill="#000">800</text>
<text transform="translate(384.70,1861.14) scale(1.0432,1)" font-size="43.64" font-weight="bold" fill="#000">Wavelength (nm)</text>
<text transform="translate(93.79,1274.03) rotate(-90) scale(0.9927,1)" font-size="38.61" font-weight="bold" fill="#000">Optical Absorption</text>
<text transform="translate(1036.63,1487.33) rotate(-90) scale(1.0096,1)" font-size="37.01" font-weight="bold" fill="#000">PL Intensity (arb. units)</text>
<line x1="1185.06" y1="822.00" x2="1185.06" y2="828.00" stroke="#555" stroke-width="2.2" stroke-linecap="butt"/>
<line x1="1219.18" y1="822.00" x2="1219.18" y2="828.00" stroke="#555" stroke-width="2.2" stroke-linecap="butt"/>
<line x1="1287.42" y1="822.00" x2="1287.42" y2="828.00" stroke="#555" stroke-width="2.2" stroke-linecap="butt"/>
<line x1="1321.54" y1="822.00" x2="1321.54" y2="828.00" stroke="#555" stroke-width="2.2" stroke-linecap="butt"/>
<line x1="1355.66" y1="822.00" x2="1355.66" y2="828.00" stroke="#555" stroke-width="2.2" stroke-linecap="butt"/>
<line x1="1389.78" y1="822.00" x2="1389.78" y2="828.00" stroke="#555" stroke-width="2.2" stroke-linecap="butt"/>
<line x1="1458.02" y1="822.00" x2="1458.02" y2="828.00" stroke="#555" stroke-width="2.2" stroke-linecap="butt"/>
<line x1="1492.14" y1="822.00" x2="1492.14" y2="828.00" stroke="#555" stroke-width="2.2" stroke-linecap="butt"/>
<line x1="1526.26" y1="822.00" x2="1526.26" y2="828.00" stroke="#555" stroke-width="2.2" stroke-linecap="butt"/>
<line x1="1560.38" y1="822.00" x2="1560.38" y2="828.00" stroke="#555" stroke-width="2.2" stroke-linecap="butt"/>
<line x1="1628.62" y1="822.00" x2="1628.62" y2="828.00" stroke="#555" stroke-width="2.2" stroke-linecap="butt"/>
<line x1="1662.74" y1="822.00" x2="1662.74" y2="828.00" stroke="#555" stroke-width="2.2" stroke-linecap="butt"/>
<line x1="1696.86" y1="822.00" x2="1696.86" y2="828.00" stroke="#555" stroke-width="2.2" stroke-linecap="butt"/>
<line x1="1730.98" y1="822.00" x2="1730.98" y2="828.00" stroke="#555" stroke-width="2.2" stroke-linecap="butt"/>
<line x1="1799.22" y1="822.00" x2="1799.22" y2="828.00" stroke="#555" stroke-width="2.2" stroke-linecap="butt"/>
<line x1="1833.34" y1="822.00" x2="1833.34" y2="828.00" stroke="#555" stroke-width="2.2" stroke-linecap="butt"/>
<line x1="1867.46" y1="822.00" x2="1867.46" y2="828.00" stroke="#555" stroke-width="2.2" stroke-linecap="butt"/>
<line x1="1901.58" y1="822.00" x2="1901.58" y2="828.00" stroke="#555" stroke-width="2.2" stroke-linecap="butt"/>
<line x1="1969.82" y1="822.00" x2="1969.82" y2="828.00" stroke="#555" stroke-width="2.2" stroke-linecap="butt"/>
<line x1="2003.94" y1="822.00" x2="2003.94" y2="828.00" stroke="#555" stroke-width="2.2" stroke-linecap="butt"/>
<line x1="1253.30" y1="822.00" x2="1253.30" y2="834.00" stroke="#555" stroke-width="2.4" stroke-linecap="butt"/>
<line x1="1253.30" y1="35.50" x2="1253.30" y2="46.50" stroke="#666" stroke-width="2.4" stroke-linecap="butt"/>
<line x1="1423.90" y1="822.00" x2="1423.90" y2="834.00" stroke="#555" stroke-width="2.4" stroke-linecap="butt"/>
<line x1="1423.90" y1="35.50" x2="1423.90" y2="46.50" stroke="#666" stroke-width="2.4" stroke-linecap="butt"/>
<line x1="1594.50" y1="822.00" x2="1594.50" y2="834.00" stroke="#555" stroke-width="2.4" stroke-linecap="butt"/>
<line x1="1594.50" y1="35.50" x2="1594.50" y2="46.50" stroke="#666" stroke-width="2.4" stroke-linecap="butt"/>
<line x1="1765.10" y1="822.00" x2="1765.10" y2="834.00" stroke="#555" stroke-width="2.4" stroke-linecap="butt"/>
<line x1="1765.10" y1="35.50" x2="1765.10" y2="46.50" stroke="#666" stroke-width="2.4" stroke-linecap="butt"/>
<line x1="1935.70" y1="822.00" x2="1935.70" y2="834.00" stroke="#555" stroke-width="2.4" stroke-linecap="butt"/>
<line x1="1935.70" y1="35.50" x2="1935.70" y2="46.50" stroke="#666" stroke-width="2.4" stroke-linecap="butt"/>
<line x1="1168.00" y1="35.50" x2="2021.40" y2="35.50" stroke="#222" stroke-width="3.0" stroke-linecap="square"/>
<line x1="1168.00" y1="822.00" x2="2021.40" y2="822.00" stroke="#444" stroke-width="2.3" stroke-linecap="square"/>
<line x1="1168.00" y1="35.50" x2="1168.00" y2="822.00" stroke="#b0b0b0" stroke-width="5.6" stroke-linecap="square"/>
<line x1="2021.40" y1="35.50" x2="2021.40" y2="822.00" stroke="#2a2a2a" stroke-width="2.8" stroke-linecap="square"/>
<polyline points="1166.6,439.1 1179.8,445.7 1204.0,445.7 1232.5,442.4 1239.1,431.4 1244.6,389.7 1250.1,334.7 1256.7,279.8 1263.3,213.8 1266.6,147.9 1268.5,82.0 1272.1,82.0 1274.3,148.0 1279.8,213.8 1284.2,262.2 1288.6,213.8 1291.9,126.0 1295.2,73.2 1298.5,126.0 1300.7,213.8 1302.9,301.8 1305.1,367.7 1309.5,416.0 1318.2,429.2 1328.1,439.1" fill="none" stroke="#000" stroke-width="8.5" stroke-linecap="butt" stroke-linejoin="round" stroke-dasharray="12 2.5"/>
<polyline points="1275.4,435.8 1287.5,433.6 1291.9,389.7 1296.3,279.8 1300.7,191.9 1306.2,257.8 1311.6,312.7 1317.1,279.8 1322.6,169.9 1329.2,72.0 1335.8,126.0 1340.2,191.9 1344.6,231.4 1351.2,191.9 1358.9,163.3 1365.5,180.9 1371.0,246.8 1377.6,282.0 1386.4,288.6 1395.2,293.0 1401.8,319.3 1410.5,352.3 1419.3,365.5 1432.5,372.1 1442.0,383.0 1454.7,394.2 1469.4,403.0 1498.9,416.3 1528.3,423.6 1572.5,429.5 1631.3,432.5 1690.2,435.4 1763.8,436.9 1778.5,435.4 1787.4,432.0 1799.1,436.9 1822.7,440.7 1881.6,442.8 1940.4,444.2 2024.3,444.8" fill="none" stroke="#0000dc" stroke-width="8" stroke-linecap="butt" stroke-linejoin="round"/>
<polyline points="1168.1,756.7 1174.2,748.6 1184.4,754.7 1198.6,758.8 1214.9,766.9 1235.2,774.0 1241.3,752.7 1247.4,714.1 1253.5,673.4 1259.6,642.9 1265.7,602.3 1270.8,579.9 1282.0,565.7 1287.0,555.5 1290.1,521.0 1294.1,486.4 1302.3,495.6 1316.5,496.6 1322.6,485.4 1328.7,496.6 1332.8,514.9 1338.9,541.3 1345.0,559.6 1349.0,575.9 1355.1,592.1 1361.2,602.3 1377.5,608.4 1383.6,614.5 1391.7,642.9 1399.8,661.2 1408.0,673.4 1420.2,670.4 1424.2,683.6 1428.3,724.2 1432.4,760.8 1438.5,789.3 1444.6,805.5" fill="none" stroke="#008000" stroke-width="7.5" stroke-linecap="butt" stroke-linejoin="round" stroke-dasharray="13 3"/>
<polyline points="1380.5,740.5 1387.6,726.3 1393.7,693.7 1403.9,663.3 1414.1,628.7 1420.2,606.3 1426.3,567.7 1430.3,551.5 1440.5,545.4 1448.6,529.1 1455.3,511.0 1469.3,484.2 1482.1,507.2 1496.1,513.6 1514.0,536.6 1524.2,554.4 1534.4,577.4 1549.7,597.8 1565.0,613.1 1582.9,636.1 1600.8,646.3 1618.6,661.6 1628.8,664.1 1637.8,660.3 1649.2,668.0 1669.7,679.4 1695.2,702.4 1707.9,705.0 1728.3,717.7 1746.2,733.0 1766.6,750.9 1784.5,758.5 1810.0,772.6 1830.4,782.8 1848.3,790.4 1868.7,796.8 1894.2,804.5 1914.6,810.9 1937.6,813.4" fill="none" stroke="#ff0000" stroke-width="8.5" stroke-linecap="butt" stroke-linejoin="round"/>
<text transform="translate(1378.03,126.93) scale(0.9026,1)" font-size="46.90" font-weight="bold" fill="#000">S</text>
<text transform="translate(1405.76,150.80) scale(1.1791,1)" font-size="30.56" font-weight="normal" fill="#000">m</text>
<text transform="translate(1432.50,127.59) scale(1.1204,1)" font-size="46.90" font-weight="bold" fill="#000">-</text>
<text transform="translate(1449.72,126.93) scale(0.9062,1)" font-size="46.90" font-weight="bold" fill="#000">S</text>
<text transform="translate(1478.42,150.48) scale(0.9311,1)" font-size="31.55" font-weight="normal" fill="#000">0</text>
<text transform="translate(1515.10,500.04) scale(1.0138,1)" font-size="46.20" font-weight="bold" fill="#000">S</text>
<g transform="translate(1542.15,522.50) scale(1.7717,1)"><clipPath id="c1_682"><rect x="-29.65" y="-59.30" width="88.96" height="55.79"/><rect x="7.06" y="-59.30" width="3.42" height="74.13"/></clipPath><text font-size="29.65" font-weight="normal" fill="#000" clip-path="url(#c1_682)">1</text></g>
<text transform="translate(1562.99,501.31) scale(1.0866,1)" font-size="46.20" font-weight="bold" fill="#000">-</text>
<text transform="translate(1577.65,500.04) scale(0.9705,1)" font-size="46.20" font-weight="bold" fill="#000">S</text>
<text transform="translate(1607.12,522.21) scale(1.1094,1)" font-size="28.73" font-weight="normal" fill="#000">0</text>
<text transform="translate(1927.78,123.29) scale(1.0208,1)" font-size="91.09" font-weight="bold" fill="#000">c</text>
<text transform="translate(1223.87,877.01) scale(0.9615,1)" font-size="38.87" font-weight="bold" fill="#000">300</text>
<text transform="translate(1393.93,877.01) scale(0.9731,1)" font-size="38.87" font-weight="bold" fill="#000">400</text>
<text transform="translate(1566.48,877.01) scale(0.9629,1)" font-size="38.87" font-weight="bold" fill="#000">500</text>
<text transform="translate(1735.89,877.01) scale(0.9659,1)" font-size="38.87" font-weight="bold" fill="#000">600</text>
<text transform="translate(1906.90,877.01) scale(0.9673,1)" font-size="38.87" font-weight="bold" fill="#000">700</text>
<text transform="translate(1440.40,935.08) scale(1.0038,1)" font-size="45.35" font-weight="bold" fill="#000">Wavelength (nm)</text>
<text transform="translate(2098.12,607.46) rotate(-90) scale(1.0338,1)" font-size="36.58" font-weight="bold" fill="#000">PL Intensity (arb units)</text>
<line x1="1192.60" y1="1770.50" x2="1192.60" y2="1776.50" stroke="#555" stroke-width="2.2" stroke-linecap="butt"/>
<line x1="1226.79" y1="1770.50" x2="1226.79" y2="1776.50" stroke="#555" stroke-width="2.2" stroke-linecap="butt"/>
<line x1="1295.17" y1="1770.50" x2="1295.17" y2="1776.50" stroke="#555" stroke-width="2.2" stroke-linecap="butt"/>
<line x1="1329.36" y1="1770.50" x2="1329.36" y2="1776.50" stroke="#555" stroke-width="2.2" stroke-linecap="butt"/>
<line x1="1363.56" y1="1770.50" x2="1363.56" y2="1776.50" stroke="#555" stroke-width="2.2" stroke-linecap="butt"/>
<line x1="1397.75" y1="1770.50" x2="1397.75" y2="1776.50" stroke="#555" stroke-width="2.2" stroke-linecap="butt"/>
<line x1="1466.13" y1="1770.50" x2="1466.13" y2="1776.50" stroke="#555" stroke-width="2.2" stroke-linecap="butt"/>
<line x1="1500.32" y1="1770.50" x2="1500.32" y2="1776.50" stroke="#555" stroke-width="2.2" stroke-linecap="butt"/>
<line x1="1534.52" y1="1770.50" x2="1534.52" y2="1776.50" stroke="#555" stroke-width="2.2" stroke-linecap="butt"/>
<line x1="1568.71" y1="1770.50" x2="1568.71" y2="1776.50" stroke="#555" stroke-width="2.2" stroke-linecap="butt"/>
<line x1="1637.09" y1="1770.50" x2="1637.09" y2="1776.50" stroke="#555" stroke-width="2.2" stroke-linecap="butt"/>
<line x1="1671.28" y1="1770.50" x2="1671.28" y2="1776.50" stroke="#555" stroke-width="2.2" stroke-linecap="butt"/>
<line x1="1705.48" y1="1770.50" x2="1705.48" y2="1776.50" stroke="#555" stroke-width="2.2" stroke-linecap="butt"/>
<line x1="1739.67" y1="1770.50" x2="1739.67" y2="1776.50" stroke="#555" stroke-width="2.2" stroke-linecap="butt"/>
<line x1="1808.05" y1="1770.50" x2="1808.05" y2="1776.50" stroke="#555" stroke-width="2.2" stroke-linecap="butt"/>
<line x1="1842.24" y1="1770.50" x2="1842.24" y2="1776.50" stroke="#555" stroke-width="2.2" stroke-linecap="butt"/>
<line x1="1876.44" y1="1770.50" x2="1876.44" y2="1776.50" stroke="#555" stroke-width="2.2" stroke-linecap="butt"/>
<line x1="1910.63" y1="1770.50" x2="1910.63" y2="1776.50" stroke="#555" stroke-width="2.2" stroke-linecap="butt"/>
<line x1="1979.01" y1="1770.50" x2="1979.01" y2="1776.50" stroke="#555" stroke-width="2.2" stroke-linecap="butt"/>
<line x1="2013.20" y1="1770.50" x2="2013.20" y2="1776.50" stroke="#555" stroke-width="2.2" stroke-linecap="butt"/>
<line x1="1260.98" y1="1770.50" x2="1260.98" y2="1782.50" stroke="#555" stroke-width="2.4" stroke-linecap="butt"/>
<line x1="1260.98" y1="985.20" x2="1260.98" y2="996.20" stroke="#666" stroke-width="2.4" stroke-linecap="butt"/>
<line x1="1431.94" y1="1770.50" x2="1431.94" y2="1782.50" stroke="#555" stroke-width="2.4" stroke-linecap="butt"/>
<line x1="1431.94" y1="985.20" x2="1431.94" y2="996.20" stroke="#666" stroke-width="2.4" stroke-linecap="butt"/>
<line x1="1602.90" y1="1770.50" x2="1602.90" y2="1782.50" stroke="#555" stroke-width="2.4" stroke-linecap="butt"/>
<line x1="1602.90" y1="985.20" x2="1602.90" y2="996.20" stroke="#666" stroke-width="2.4" stroke-linecap="butt"/>
<line x1="1773.86" y1="1770.50" x2="1773.86" y2="1782.50" stroke="#555" stroke-width="2.4" stroke-linecap="butt"/>
<line x1="1773.86" y1="985.20" x2="1773.86" y2="996.20" stroke="#666" stroke-width="2.4" stroke-linecap="butt"/>
<line x1="1944.82" y1="1770.50" x2="1944.82" y2="1782.50" stroke="#555" stroke-width="2.4" stroke-linecap="butt"/>
<line x1="1944.82" y1="985.20" x2="1944.82" y2="996.20" stroke="#666" stroke-width="2.4" stroke-linecap="butt"/>
<line x1="1175.50" y1="985.20" x2="2029.70" y2="985.20" stroke="#555" stroke-width="2.6" stroke-linecap="square"/>
<line x1="1175.50" y1="1770.50" x2="2029.70" y2="1770.50" stroke="#444" stroke-width="2.3" stroke-linecap="square"/>
<line x1="1175.50" y1="985.20" x2="1175.50" y2="1770.50" stroke="#333" stroke-width="2.8" stroke-linecap="square"/>
<line x1="2029.70" y1="985.20" x2="2029.70" y2="1770.50" stroke="#777" stroke-width="2.6" stroke-linecap="square"/>
<line x1="1174.00" y1="982.30" x2="2031.00" y2="982.30" stroke="#c8c8c8" stroke-width="2.4" stroke-linecap="butt"/>
<polyline points="1172.9,1383.5 1200.0,1383.0 1238.2,1383.5 1241.0,1356.0 1245.1,1301.0 1247.9,1259.9 1250.6,1232.4 1254.7,1222.8 1258.8,1224.2 1263.0,1246.1 1267.1,1239.3 1269.8,1191.2 1272.2,1143.3 1276.5,1063.3 1280.7,1143.3 1284.9,1191.2 1289.0,1218.7 1293.2,1246.1 1297.3,1204.9 1299.5,1092.2 1302.9,1002.0 1306.3,1092.2 1306.2,1200.0 1306.2,1287.3 1308.3,1328.5 1312.4,1353.2 1317.9,1360.1 1323.4,1356.0 1328.9,1339.5 1334.4,1356.0 1338.5,1378.0" fill="none" stroke="#0000dc" stroke-width="5.5" stroke-linecap="butt" stroke-linejoin="round"/>
<polyline points="1295.9,1382.1 1298.7,1369.7 1301.4,1314.8 1304.2,1259.9 1306.9,1204.9 1309.7,1087.1 1314.8,1211.5 1318.2,1312.0 1323.3,1228.5 1328.4,1109.2 1333.5,1007.0 1335.5,1000.0 1340.4,1109.2 1345.5,1211.5 1350.6,1216.6 1355.7,1160.4 1359.1,1126.3 1365.9,1107.5 1370.0,1109.2 1374.1,1129.5 1377.7,1182.5 1381.2,1209.0 1391.8,1212.5 1398.9,1212.5 1405.9,1232.0 1413.0,1258.4 1420.1,1272.6 1430.7,1281.4 1441.3,1288.0 1449.8,1300.8 1464.5,1314.6 1479.3,1323.4 1494.0,1330.3 1508.7,1334.2 1515.6,1332.2 1521.5,1308.7 1526.4,1295.0 1532.2,1310.7 1538.1,1317.5 1548.0,1318.5 1562.7,1314.6 1569.5,1306.7 1579.4,1294.0 1584.3,1281.2 1588.2,1273.4 1593.1,1279.3 1599.0,1288.1 1606.8,1290.0 1616.6,1284.2 1631.4,1271.4 1642.1,1266.3 1652.1,1263.3 1658.2,1254.2 1672.2,1259.2 1696.4,1255.2 1724.5,1257.2 1740.6,1261.2 1754.7,1270.3 1774.8,1279.3 1795.0,1292.4 1821.1,1304.5 1841.2,1318.6 1861.3,1328.6 1881.5,1340.7 1911.6,1352.8 1941.8,1360.8 1972.0,1368.9 2002.2,1374.9 2031.3,1378.9" fill="none" stroke="#008000" stroke-width="8" stroke-linecap="butt" stroke-linejoin="round"/>
<polyline points="1175.1,1056.4 1179.4,1039.4 1183.6,1024.1 1188.7,1013.9 1195.6,1008.7 1202.4,1004.5 1209.2,1012.1 1216.0,1024.1 1222.8,1032.6 1227.9,1044.5 1234.7,1054.7 1236.4,1075.2 1238.1,1126.3 1239.8,1177.4 1241.0,1204.9 1243.7,1239.3 1246.5,1266.7 1254.7,1258.5 1265.7,1264.0 1272.6,1255.7 1276.7,1229.6 1282.2,1226.9 1284.9,1246.1 1289.0,1273.6 1293.2,1287.3 1298.7,1273.6 1301.4,1259.9 1304.2,1215.9 1306.9,1246.1 1309.6,1287.3 1312.4,1314.8 1315.1,1327.1 1323.4,1336.8 1337.1,1346.4 1348.1,1358.7 1361.8,1368.3 1378.3,1372.5 1400.0,1375.2 1464.6,1380.0 1548.0,1383.5" fill="none" stroke="#000" stroke-width="8" stroke-linecap="butt" stroke-linejoin="round" stroke-dasharray="11 2.5"/>
<path d="M1257.9,1765.5 C1273.2,1765.5 1318.0,1765.5 1350.0,1765.3 C1382.0,1765.0 1428.3,1764.6 1450.0,1764.0 C1471.7,1763.4 1470.4,1762.6 1480.0,1761.8 C1489.6,1761.0 1499.8,1760.0 1507.5,1759.0 C1515.2,1758.0 1520.5,1757.7 1526.5,1755.8 C1532.5,1753.9 1537.8,1751.3 1543.4,1747.4 C1549.1,1743.5 1555.5,1737.5 1560.4,1732.6 C1565.3,1727.7 1568.8,1723.8 1573.0,1717.8 C1577.2,1711.8 1581.8,1704.0 1585.7,1696.6 C1589.6,1689.2 1592.8,1682.2 1596.3,1673.4 C1599.8,1664.6 1603.4,1653.7 1606.9,1643.8 C1610.4,1633.9 1614.0,1624.7 1617.5,1614.1 C1621.0,1603.5 1624.5,1590.9 1628.0,1580.3 C1631.5,1569.7 1635.1,1560.6 1638.6,1550.7 C1642.1,1540.8 1645.7,1531.0 1649.2,1521.1 C1652.7,1511.2 1656.2,1500.7 1659.7,1491.5 C1663.2,1482.3 1666.4,1474.5 1670.3,1466.1 C1674.2,1457.6 1678.4,1448.5 1683.0,1440.8 C1687.6,1433.0 1692.9,1425.2 1697.8,1419.6 C1702.7,1413.9 1707.7,1409.7 1712.6,1406.9 C1717.5,1404.1 1722.5,1402.7 1727.4,1402.7 C1732.3,1402.7 1738.1,1405.0 1742.2,1406.9 C1746.3,1408.8 1748.2,1410.3 1752.2,1414.2 C1756.2,1418.1 1762.0,1424.7 1766.4,1430.5 C1770.8,1436.3 1774.5,1442.4 1778.6,1448.8 C1782.7,1455.2 1786.7,1461.6 1790.8,1469.1 C1794.9,1476.5 1798.9,1485.4 1803.0,1493.5 C1807.1,1501.6 1811.1,1509.8 1815.2,1517.9 C1819.3,1526.0 1823.3,1534.2 1827.4,1542.3 C1831.5,1550.4 1835.5,1558.9 1839.6,1566.7 C1843.7,1574.5 1847.4,1581.5 1851.8,1589.0 C1856.2,1596.5 1861.3,1604.3 1866.0,1611.4 C1870.7,1618.5 1875.5,1624.9 1880.2,1631.7 C1885.0,1638.5 1889.4,1645.9 1894.5,1652.0 C1899.6,1658.1 1905.3,1662.9 1910.7,1668.3 C1916.1,1673.7 1921.2,1679.2 1927.0,1684.6 C1932.8,1690.0 1939.2,1695.7 1945.3,1700.8 C1951.4,1705.9 1957.2,1710.6 1963.6,1715.0 C1970.0,1719.4 1977.1,1723.5 1983.9,1727.2 C1990.7,1730.9 1996.8,1734.7 2004.2,1737.4 C2011.7,1740.1 2024.5,1742.5 2028.6,1743.5" fill="none" stroke="#ff0000" stroke-width="9" stroke-linecap="butt" stroke-linejoin="round"/>
<polyline points="1175.5,1516.2 1177.7,1498.6 1179.9,1478.9 1181.0,1445.9 1185.4,1428.3 1192.0,1413.0 1200.8,1404.2 1209.5,1408.6 1218.3,1417.3 1227.1,1419.5 1233.7,1428.3 1235.9,1467.9 1238.1,1533.8 1240.3,1599.7 1242.5,1654.6 1244.7,1698.5 1249.1,1727.1 1262.3,1735.9 1277.6,1749.1 1293.0,1753.5 1306.2,1754.6 1321.6,1760.0 1345.7,1763.4 1389.7,1764.5 1420.0,1765.5 1550.0,1764.5 1702.6,1764.7" fill="none" stroke="#000" stroke-width="8" stroke-linecap="butt" stroke-linejoin="round" stroke-dasharray="11 2.5"/>
<text transform="translate(1360.32,1036.62) scale(0.8928,1)" font-size="47.61" font-weight="bold" fill="#000">S</text>
<text transform="translate(1388.86,1060.60) scale(1.0835,1)" font-size="30.37" font-weight="normal" fill="#000">m</text>
<text transform="translate(1415.20,1037.68) scale(1.1038,1)" font-size="47.61" font-weight="bold" fill="#000">-</text>
<text transform="translate(1432.52,1036.62) scale(0.8928,1)" font-size="47.61" font-weight="bold" fill="#000">S</text>
<text transform="translate(1461.22,1060.29) scale(0.9419,1)" font-size="31.41" font-weight="normal" fill="#000">0</text>
<text transform="translate(1514.17,1238.53) scale(0.9333,1)" font-size="47.32" font-weight="bold" fill="#000">S</text>
<g transform="translate(1540.96,1262.90) scale(1.4118,1)"><clipPath id="c1_740"><rect x="-33.43" y="-66.86" width="100.29" height="63.06"/><rect x="8.01" y="-66.86" width="3.75" height="83.58"/></clipPath><text font-size="33.43" font-weight="normal" fill="#000" clip-path="url(#c1_740)">1</text></g>
<text transform="translate(1559.95,1238.90) scale(1.2430,1)" font-size="47.32" font-weight="bold" fill="#000">-</text>
<text transform="translate(1576.88,1238.53) scale(0.9333,1)" font-size="47.32" font-weight="bold" fill="#000">S</text>
<text transform="translate(1605.15,1262.68) scale(0.9647,1)" font-size="32.39" font-weight="normal" fill="#000">0</text>
<text transform="translate(1792.86,1420.50) scale(0.9084,1)" font-size="48.70" font-weight="bold" fill="#000">T</text>
<g transform="translate(1815.94,1444.60) scale(1.6460,1)"><clipPath id="c1_745"><rect x="-30.67" y="-61.34" width="92.01" height="57.75"/><rect x="7.31" y="-61.34" width="3.51" height="76.67"/></clipPath><text font-size="30.67" font-weight="normal" fill="#000" clip-path="url(#c1_745)">1</text></g>
<text transform="translate(1835.04,1421.56) scale(1.1113,1)" font-size="48.70" font-weight="bold" fill="#000">-</text>
<text transform="translate(1851.10,1420.52) scale(0.9084,1)" font-size="47.89" font-weight="bold" fill="#000">S</text>
<text transform="translate(1881.46,1444.70) scale(0.9425,1)" font-size="30.28" font-weight="normal" fill="#000">0</text>
<text transform="translate(1950.59,1076.81) scale(1.0117,1)" font-size="89.25" font-weight="bold" fill="#000">d</text>
<text transform="translate(1225.67,1831.64) scale(0.9725,1)" font-size="46.34" font-weight="bold" fill="#000">300</text>
<text transform="translate(1396.32,1831.64) scale(0.9785,1)" font-size="46.34" font-weight="bold" fill="#000">400</text>
<text transform="translate(1566.74,1831.64) scale(0.9755,1)" font-size="46.34" font-weight="bold" fill="#000">500</text>
<text transform="translate(1736.28,1831.64) scale(0.9962,1)" font-size="46.34" font-weight="bold" fill="#000">600</text>
<text transform="translate(1907.98,1831.64) scale(0.9830,1)" font-size="46.34" font-weight="bold" fill="#000">700</text>
<text transform="translate(1443.20,1882.65) scale(1.0271,1)" font-size="44.06" font-weight="bold" fill="#000">Wavelength (nm)</text>
<text transform="translate(2095.25,1565.05) rotate(-90) scale(0.9949,1)" font-size="37.86" font-weight="bold" fill="#000">PL Intensity (arb. units)</text>
</svg>
</body></html>
